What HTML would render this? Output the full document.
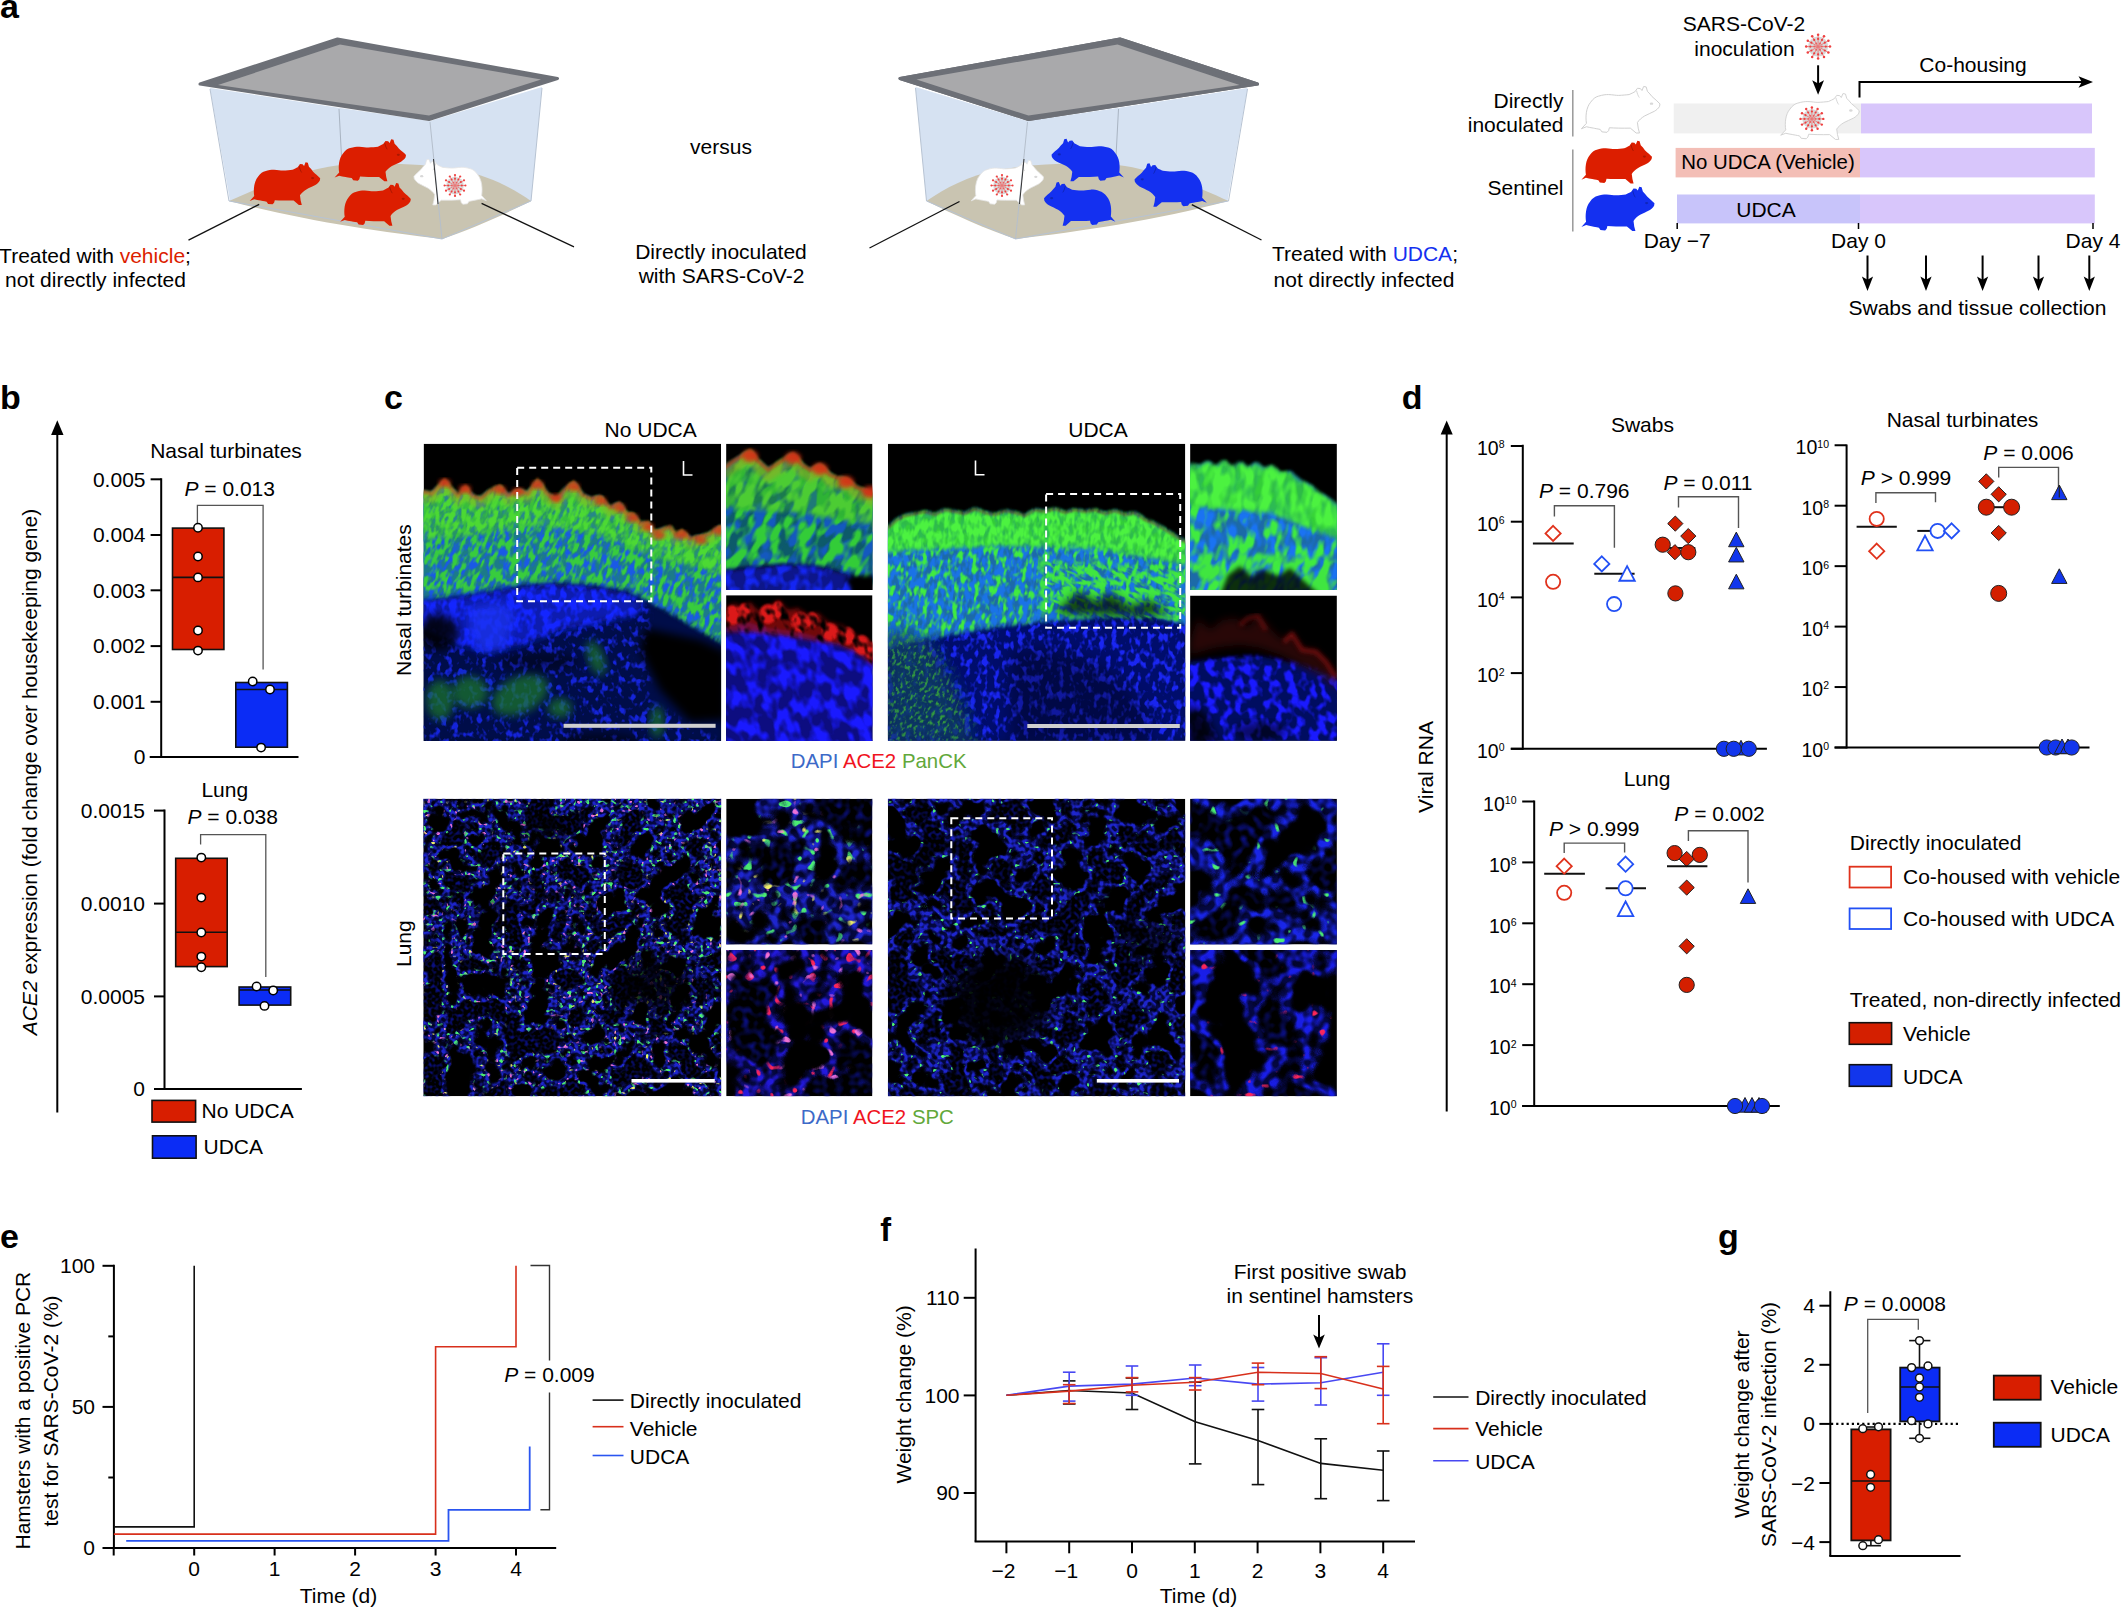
<!DOCTYPE html><html><head><meta charset='utf-8'><style>html,body{margin:0;padding:0;background:#fff;overflow:hidden}svg{display:block}</style></head><body><svg width='2122' height='1608' viewBox='0 0 2122 1608'><rect width='2122' height='1608' fill='#fff'/><defs><filter id='vblur' x='-20%' y='-20%' width='140%' height='140%'><feGaussianBlur stdDeviation='0.45'/></filter></defs><text x='0' y='17.8' font-family="'Liberation Sans', Arial, sans-serif" font-weight='bold' font-size='34'>a</text><g><polygon points='210,88 230,201 340,165 531,201 542,87 430,121 340,108' fill='#d6e2f2'/><path d='M229 201 C262 186 300 170 340 165 C380 162 420 163 460 170 C490 176 512 188 531 201 C505 214 470 230 442 239 C380 232 300 220 229 201 Z' fill='#c9c4b1'/><path d='M210 89 L229 201 L442 239 L531 201 L542 88' fill='none' stroke='#b7c3d3' stroke-width='1'/><line x1='339' y1='109' x2='342' y2='166' stroke='#a9b4c2' stroke-width='1'/><path transform='translate(334.6,139.0) scale(0.7160,0.6887)' d='M0 55.9 L6.4 48.8 C5 40 6 28 11.7 21.2 C15 16 19 13.8 21.7 13.2 C27 11.5 31 11 34.5 11.1 C40 11.3 44 12.3 47.2 12.2 C52 12 57 11.5 60.5 11.1 C63 10 66 8.5 67.9 7.4 L71.1 2.9 L74.8 3.2 L76.9 5.8 L79 0.5 L82.2 1.1 L83.8 6.9 C86 9 88 11.5 89.7 13.8 C93 17 97 20 99.7 23.3 L99.2 26.5 C97.5 29.5 95 31.5 92.8 32.9 C88 35.5 84 37 80.1 39.2 C76.5 41.5 73 44.5 71.1 47.7 L72.1 55.1 L73.7 61.5 L69.5 61.5 L62.1 55.1 C57 55.2 52 55.2 47.2 55.1 C43 55 39 54.8 35.5 54.6 L34.5 58.4 L32.4 60.6 L26 60 L23.9 56.8 C20 56 17 55.5 15.4 55.1 C12 54.5 9 54 6.4 53.3 Z' fill='#dc1e00'/><g transform='translate(334.6,139.0) scale(0.7160,0.6887)' fill='none' stroke='rgba(0,0,0,0.22)' stroke-width='1' vector-effect='non-scaling-stroke'><path d='M70 6 C71 10 72 13 73.5 15' vector-effect='non-scaling-stroke'/><ellipse cx='89' cy='23' rx='2.2' ry='1.6' fill='rgba(0,0,0,0.22)' stroke='none'/></g><path transform='translate(249.7,162.0) scale(0.7070,0.6984)' d='M0 55.9 L6.4 48.8 C5 40 6 28 11.7 21.2 C15 16 19 13.8 21.7 13.2 C27 11.5 31 11 34.5 11.1 C40 11.3 44 12.3 47.2 12.2 C52 12 57 11.5 60.5 11.1 C63 10 66 8.5 67.9 7.4 L71.1 2.9 L74.8 3.2 L76.9 5.8 L79 0.5 L82.2 1.1 L83.8 6.9 C86 9 88 11.5 89.7 13.8 C93 17 97 20 99.7 23.3 L99.2 26.5 C97.5 29.5 95 31.5 92.8 32.9 C88 35.5 84 37 80.1 39.2 C76.5 41.5 73 44.5 71.1 47.7 L72.1 55.1 L73.7 61.5 L69.5 61.5 L62.1 55.1 C57 55.2 52 55.2 47.2 55.1 C43 55 39 54.8 35.5 54.6 L34.5 58.4 L32.4 60.6 L26 60 L23.9 56.8 C20 56 17 55.5 15.4 55.1 C12 54.5 9 54 6.4 53.3 Z' fill='#dc1e00'/><g transform='translate(249.7,162.0) scale(0.7070,0.6984)' fill='none' stroke='rgba(0,0,0,0.22)' stroke-width='1' vector-effect='non-scaling-stroke'><path d='M70 6 C71 10 72 13 73.5 15' vector-effect='non-scaling-stroke'/><ellipse cx='89' cy='23' rx='2.2' ry='1.6' fill='rgba(0,0,0,0.22)' stroke='none'/></g><path transform='translate(340.2,182.7) scale(0.7080,0.6984)' d='M0 55.9 L6.4 48.8 C5 40 6 28 11.7 21.2 C15 16 19 13.8 21.7 13.2 C27 11.5 31 11 34.5 11.1 C40 11.3 44 12.3 47.2 12.2 C52 12 57 11.5 60.5 11.1 C63 10 66 8.5 67.9 7.4 L71.1 2.9 L74.8 3.2 L76.9 5.8 L79 0.5 L82.2 1.1 L83.8 6.9 C86 9 88 11.5 89.7 13.8 C93 17 97 20 99.7 23.3 L99.2 26.5 C97.5 29.5 95 31.5 92.8 32.9 C88 35.5 84 37 80.1 39.2 C76.5 41.5 73 44.5 71.1 47.7 L72.1 55.1 L73.7 61.5 L69.5 61.5 L62.1 55.1 C57 55.2 52 55.2 47.2 55.1 C43 55 39 54.8 35.5 54.6 L34.5 58.4 L32.4 60.6 L26 60 L23.9 56.8 C20 56 17 55.5 15.4 55.1 C12 54.5 9 54 6.4 53.3 Z' fill='#dc1e00'/><g transform='translate(340.2,182.7) scale(0.7080,0.6984)' fill='none' stroke='rgba(0,0,0,0.22)' stroke-width='1' vector-effect='non-scaling-stroke'><path d='M70 6 C71 10 72 13 73.5 15' vector-effect='non-scaling-stroke'/><ellipse cx='89' cy='23' rx='2.2' ry='1.6' fill='rgba(0,0,0,0.22)' stroke='none'/></g><path transform='translate(486.3,159.0) scale(-0.7260,0.7468)' d='M0 55.9 L6.4 48.8 C5 40 6 28 11.7 21.2 C15 16 19 13.8 21.7 13.2 C27 11.5 31 11 34.5 11.1 C40 11.3 44 12.3 47.2 12.2 C52 12 57 11.5 60.5 11.1 C63 10 66 8.5 67.9 7.4 L71.1 2.9 L74.8 3.2 L76.9 5.8 L79 0.5 L82.2 1.1 L83.8 6.9 C86 9 88 11.5 89.7 13.8 C93 17 97 20 99.7 23.3 L99.2 26.5 C97.5 29.5 95 31.5 92.8 32.9 C88 35.5 84 37 80.1 39.2 C76.5 41.5 73 44.5 71.1 47.7 L72.1 55.1 L73.7 61.5 L69.5 61.5 L62.1 55.1 C57 55.2 52 55.2 47.2 55.1 C43 55 39 54.8 35.5 54.6 L34.5 58.4 L32.4 60.6 L26 60 L23.9 56.8 C20 56 17 55.5 15.4 55.1 C12 54.5 9 54 6.4 53.3 Z' fill='#ffffff' stroke='#e4e4e4' stroke-width='0.8' vector-effect='non-scaling-stroke'/><g transform='translate(486.3,159.0) scale(-0.7260,0.7468)' fill='none' stroke='#d8d8d8' stroke-width='1' vector-effect='non-scaling-stroke'><path d='M70 6 C71 10 72 13 73.5 15' vector-effect='non-scaling-stroke'/><ellipse cx='89' cy='23' rx='2.2' ry='1.6' fill='#d8d8d8' stroke='none'/></g><g filter='url(#vblur)'><circle cx='455.0' cy='185.5' r='8.80' fill='#d4d4d4' opacity='0.9'/><line x1='455.0' y1='185.5' x2='455.0' y2='195.9' stroke='#e87878' stroke-width='0.77'/><circle cx='455.0' cy='195.9' r='1.10' fill='#ee4040'/><circle cx='455.0' cy='192.3' r='0.99' fill='#ee4040'/><line x1='455.0' y1='185.5' x2='449.8' y2='194.5' stroke='#e87878' stroke-width='0.77'/><circle cx='449.8' cy='194.5' r='1.10' fill='#ee4040'/><circle cx='451.6' cy='191.4' r='0.99' fill='#ee4040'/><line x1='455.0' y1='185.5' x2='446.0' y2='190.7' stroke='#e87878' stroke-width='0.77'/><circle cx='446.0' cy='190.7' r='1.10' fill='#ee4040'/><circle cx='449.1' cy='188.9' r='0.99' fill='#ee4040'/><line x1='455.0' y1='185.5' x2='444.6' y2='185.5' stroke='#e87878' stroke-width='0.77'/><circle cx='444.6' cy='185.5' r='1.10' fill='#ee4040'/><circle cx='448.2' cy='185.5' r='0.99' fill='#ee4040'/><line x1='455.0' y1='185.5' x2='446.0' y2='180.3' stroke='#e87878' stroke-width='0.77'/><circle cx='446.0' cy='180.3' r='1.10' fill='#ee4040'/><circle cx='449.1' cy='182.1' r='0.99' fill='#ee4040'/><line x1='455.0' y1='185.5' x2='449.8' y2='176.5' stroke='#e87878' stroke-width='0.77'/><circle cx='449.8' cy='176.5' r='1.10' fill='#ee4040'/><circle cx='451.6' cy='179.6' r='0.99' fill='#ee4040'/><line x1='455.0' y1='185.5' x2='455.0' y2='175.1' stroke='#e87878' stroke-width='0.77'/><circle cx='455.0' cy='175.1' r='1.10' fill='#ee4040'/><circle cx='455.0' cy='178.7' r='0.99' fill='#ee4040'/><line x1='455.0' y1='185.5' x2='460.2' y2='176.5' stroke='#e87878' stroke-width='0.77'/><circle cx='460.2' cy='176.5' r='1.10' fill='#ee4040'/><circle cx='458.4' cy='179.6' r='0.99' fill='#ee4040'/><line x1='455.0' y1='185.5' x2='464.0' y2='180.3' stroke='#e87878' stroke-width='0.77'/><circle cx='464.0' cy='180.3' r='1.10' fill='#ee4040'/><circle cx='460.9' cy='182.1' r='0.99' fill='#ee4040'/><line x1='455.0' y1='185.5' x2='465.4' y2='185.5' stroke='#e87878' stroke-width='0.77'/><circle cx='465.4' cy='185.5' r='1.10' fill='#ee4040'/><circle cx='461.8' cy='185.5' r='0.99' fill='#ee4040'/><line x1='455.0' y1='185.5' x2='464.0' y2='190.7' stroke='#e87878' stroke-width='0.77'/><circle cx='464.0' cy='190.7' r='1.10' fill='#ee4040'/><circle cx='460.9' cy='188.9' r='0.99' fill='#ee4040'/><line x1='455.0' y1='185.5' x2='460.2' y2='194.5' stroke='#e87878' stroke-width='0.77'/><circle cx='460.2' cy='194.5' r='1.10' fill='#ee4040'/><circle cx='458.4' cy='191.4' r='0.99' fill='#ee4040'/><circle cx='458.3' cy='185.5' r='0.88' fill='#ee6060'/><circle cx='456.6' cy='188.4' r='0.88' fill='#ee6060'/><circle cx='453.4' cy='188.4' r='0.88' fill='#ee6060'/><circle cx='451.7' cy='185.5' r='0.88' fill='#ee6060'/><circle cx='453.4' cy='182.6' r='0.88' fill='#ee6060'/><circle cx='456.6' cy='182.6' r='0.88' fill='#ee6060'/></g><line x1='430' y1='122' x2='442' y2='239' stroke='#b5bfcc' stroke-width='1'/><line x1='433.5' y1='159' x2='438' y2='204' stroke='#333' stroke-width='1'/><polygon points='200,84 337.5,39 557.5,78.5 429,119.5' fill='#6d7077' stroke='#6d7077' stroke-width='3' stroke-linejoin='round'/><polygon points='218,85 340,44.5 541,79.5 429,115.5' fill='#a9a9ab'/></g><g transform='translate(1457.5,0) scale(-1,1)'><polygon points='210,88 230,201 340,165 531,201 542,87 430,121 340,108' fill='#d6e2f2'/><path d='M229 201 C262 186 300 170 340 165 C380 162 420 163 460 170 C490 176 512 188 531 201 C505 214 470 230 442 239 C380 232 300 220 229 201 Z' fill='#c9c4b1'/><path d='M210 89 L229 201 L442 239 L531 201 L542 88' fill='none' stroke='#b7c3d3' stroke-width='1'/><line x1='339' y1='109' x2='342' y2='166' stroke='#a9b4c2' stroke-width='1'/><polygon points='200,84 337.5,39 557.5,78.5 429,119.5' fill='#6d7077' stroke='#6d7077' stroke-width='3' stroke-linejoin='round'/><polygon points='218,85 340,44.5 541,79.5 429,115.5' fill='#a9a9ab'/></g><path transform='translate(1123.9,138.4) scale(-0.7260,0.6984)' d='M0 55.9 L6.4 48.8 C5 40 6 28 11.7 21.2 C15 16 19 13.8 21.7 13.2 C27 11.5 31 11 34.5 11.1 C40 11.3 44 12.3 47.2 12.2 C52 12 57 11.5 60.5 11.1 C63 10 66 8.5 67.9 7.4 L71.1 2.9 L74.8 3.2 L76.9 5.8 L79 0.5 L82.2 1.1 L83.8 6.9 C86 9 88 11.5 89.7 13.8 C93 17 97 20 99.7 23.3 L99.2 26.5 C97.5 29.5 95 31.5 92.8 32.9 C88 35.5 84 37 80.1 39.2 C76.5 41.5 73 44.5 71.1 47.7 L72.1 55.1 L73.7 61.5 L69.5 61.5 L62.1 55.1 C57 55.2 52 55.2 47.2 55.1 C43 55 39 54.8 35.5 54.6 L34.5 58.4 L32.4 60.6 L26 60 L23.9 56.8 C20 56 17 55.5 15.4 55.1 C12 54.5 9 54 6.4 53.3 Z' fill='#1430f0'/><g transform='translate(1123.9,138.4) scale(-0.7260,0.6984)' fill='none' stroke='rgba(0,0,0,0.22)' stroke-width='1' vector-effect='non-scaling-stroke'><path d='M70 6 C71 10 72 13 73.5 15' vector-effect='non-scaling-stroke'/><ellipse cx='89' cy='23' rx='2.2' ry='1.6' fill='rgba(0,0,0,0.22)' stroke='none'/></g><path transform='translate(1115.4,181.7) scale(-0.7160,0.7145)' d='M0 55.9 L6.4 48.8 C5 40 6 28 11.7 21.2 C15 16 19 13.8 21.7 13.2 C27 11.5 31 11 34.5 11.1 C40 11.3 44 12.3 47.2 12.2 C52 12 57 11.5 60.5 11.1 C63 10 66 8.5 67.9 7.4 L71.1 2.9 L74.8 3.2 L76.9 5.8 L79 0.5 L82.2 1.1 L83.8 6.9 C86 9 88 11.5 89.7 13.8 C93 17 97 20 99.7 23.3 L99.2 26.5 C97.5 29.5 95 31.5 92.8 32.9 C88 35.5 84 37 80.1 39.2 C76.5 41.5 73 44.5 71.1 47.7 L72.1 55.1 L73.7 61.5 L69.5 61.5 L62.1 55.1 C57 55.2 52 55.2 47.2 55.1 C43 55 39 54.8 35.5 54.6 L34.5 58.4 L32.4 60.6 L26 60 L23.9 56.8 C20 56 17 55.5 15.4 55.1 C12 54.5 9 54 6.4 53.3 Z' fill='#1430f0'/><g transform='translate(1115.4,181.7) scale(-0.7160,0.7145)' fill='none' stroke='rgba(0,0,0,0.22)' stroke-width='1' vector-effect='non-scaling-stroke'><path d='M70 6 C71 10 72 13 73.5 15' vector-effect='non-scaling-stroke'/><ellipse cx='89' cy='23' rx='2.2' ry='1.6' fill='rgba(0,0,0,0.22)' stroke='none'/></g><path transform='translate(1206.8,162.9) scale(-0.7250,0.7145)' d='M0 55.9 L6.4 48.8 C5 40 6 28 11.7 21.2 C15 16 19 13.8 21.7 13.2 C27 11.5 31 11 34.5 11.1 C40 11.3 44 12.3 47.2 12.2 C52 12 57 11.5 60.5 11.1 C63 10 66 8.5 67.9 7.4 L71.1 2.9 L74.8 3.2 L76.9 5.8 L79 0.5 L82.2 1.1 L83.8 6.9 C86 9 88 11.5 89.7 13.8 C93 17 97 20 99.7 23.3 L99.2 26.5 C97.5 29.5 95 31.5 92.8 32.9 C88 35.5 84 37 80.1 39.2 C76.5 41.5 73 44.5 71.1 47.7 L72.1 55.1 L73.7 61.5 L69.5 61.5 L62.1 55.1 C57 55.2 52 55.2 47.2 55.1 C43 55 39 54.8 35.5 54.6 L34.5 58.4 L32.4 60.6 L26 60 L23.9 56.8 C20 56 17 55.5 15.4 55.1 C12 54.5 9 54 6.4 53.3 Z' fill='#1430f0'/><g transform='translate(1206.8,162.9) scale(-0.7250,0.7145)' fill='none' stroke='rgba(0,0,0,0.22)' stroke-width='1' vector-effect='non-scaling-stroke'><path d='M70 6 C71 10 72 13 73.5 15' vector-effect='non-scaling-stroke'/><ellipse cx='89' cy='23' rx='2.2' ry='1.6' fill='rgba(0,0,0,0.22)' stroke='none'/></g><path transform='translate(971.2,160.0) scale(0.7260,0.7306)' d='M0 55.9 L6.4 48.8 C5 40 6 28 11.7 21.2 C15 16 19 13.8 21.7 13.2 C27 11.5 31 11 34.5 11.1 C40 11.3 44 12.3 47.2 12.2 C52 12 57 11.5 60.5 11.1 C63 10 66 8.5 67.9 7.4 L71.1 2.9 L74.8 3.2 L76.9 5.8 L79 0.5 L82.2 1.1 L83.8 6.9 C86 9 88 11.5 89.7 13.8 C93 17 97 20 99.7 23.3 L99.2 26.5 C97.5 29.5 95 31.5 92.8 32.9 C88 35.5 84 37 80.1 39.2 C76.5 41.5 73 44.5 71.1 47.7 L72.1 55.1 L73.7 61.5 L69.5 61.5 L62.1 55.1 C57 55.2 52 55.2 47.2 55.1 C43 55 39 54.8 35.5 54.6 L34.5 58.4 L32.4 60.6 L26 60 L23.9 56.8 C20 56 17 55.5 15.4 55.1 C12 54.5 9 54 6.4 53.3 Z' fill='#ffffff' stroke='#e4e4e4' stroke-width='0.8' vector-effect='non-scaling-stroke'/><g transform='translate(971.2,160.0) scale(0.7260,0.7306)' fill='none' stroke='#d8d8d8' stroke-width='1' vector-effect='non-scaling-stroke'><path d='M70 6 C71 10 72 13 73.5 15' vector-effect='non-scaling-stroke'/><ellipse cx='89' cy='23' rx='2.2' ry='1.6' fill='#d8d8d8' stroke='none'/></g><g filter='url(#vblur)'><circle cx='1002.0' cy='185.5' r='8.80' fill='#d4d4d4' opacity='0.9'/><line x1='1002.0' y1='185.5' x2='1002.0' y2='195.9' stroke='#e87878' stroke-width='0.77'/><circle cx='1002.0' cy='195.9' r='1.10' fill='#ee4040'/><circle cx='1002.0' cy='192.3' r='0.99' fill='#ee4040'/><line x1='1002.0' y1='185.5' x2='996.8' y2='194.5' stroke='#e87878' stroke-width='0.77'/><circle cx='996.8' cy='194.5' r='1.10' fill='#ee4040'/><circle cx='998.6' cy='191.4' r='0.99' fill='#ee4040'/><line x1='1002.0' y1='185.5' x2='993.0' y2='190.7' stroke='#e87878' stroke-width='0.77'/><circle cx='993.0' cy='190.7' r='1.10' fill='#ee4040'/><circle cx='996.1' cy='188.9' r='0.99' fill='#ee4040'/><line x1='1002.0' y1='185.5' x2='991.5' y2='185.5' stroke='#e87878' stroke-width='0.77'/><circle cx='991.5' cy='185.5' r='1.10' fill='#ee4040'/><circle cx='995.2' cy='185.5' r='0.99' fill='#ee4040'/><line x1='1002.0' y1='185.5' x2='993.0' y2='180.3' stroke='#e87878' stroke-width='0.77'/><circle cx='993.0' cy='180.3' r='1.10' fill='#ee4040'/><circle cx='996.1' cy='182.1' r='0.99' fill='#ee4040'/><line x1='1002.0' y1='185.5' x2='996.8' y2='176.5' stroke='#e87878' stroke-width='0.77'/><circle cx='996.8' cy='176.5' r='1.10' fill='#ee4040'/><circle cx='998.6' cy='179.6' r='0.99' fill='#ee4040'/><line x1='1002.0' y1='185.5' x2='1002.0' y2='175.1' stroke='#e87878' stroke-width='0.77'/><circle cx='1002.0' cy='175.1' r='1.10' fill='#ee4040'/><circle cx='1002.0' cy='178.7' r='0.99' fill='#ee4040'/><line x1='1002.0' y1='185.5' x2='1007.2' y2='176.5' stroke='#e87878' stroke-width='0.77'/><circle cx='1007.2' cy='176.5' r='1.10' fill='#ee4040'/><circle cx='1005.4' cy='179.6' r='0.99' fill='#ee4040'/><line x1='1002.0' y1='185.5' x2='1011.0' y2='180.3' stroke='#e87878' stroke-width='0.77'/><circle cx='1011.0' cy='180.3' r='1.10' fill='#ee4040'/><circle cx='1007.9' cy='182.1' r='0.99' fill='#ee4040'/><line x1='1002.0' y1='185.5' x2='1012.5' y2='185.5' stroke='#e87878' stroke-width='0.77'/><circle cx='1012.5' cy='185.5' r='1.10' fill='#ee4040'/><circle cx='1008.8' cy='185.5' r='0.99' fill='#ee4040'/><line x1='1002.0' y1='185.5' x2='1011.0' y2='190.7' stroke='#e87878' stroke-width='0.77'/><circle cx='1011.0' cy='190.7' r='1.10' fill='#ee4040'/><circle cx='1007.9' cy='188.9' r='0.99' fill='#ee4040'/><line x1='1002.0' y1='185.5' x2='1007.2' y2='194.5' stroke='#e87878' stroke-width='0.77'/><circle cx='1007.2' cy='194.5' r='1.10' fill='#ee4040'/><circle cx='1005.4' cy='191.4' r='0.99' fill='#ee4040'/><circle cx='1005.3' cy='185.5' r='0.88' fill='#ee6060'/><circle cx='1003.6' cy='188.4' r='0.88' fill='#ee6060'/><circle cx='1000.4' cy='188.4' r='0.88' fill='#ee6060'/><circle cx='998.7' cy='185.5' r='0.88' fill='#ee6060'/><circle cx='1000.4' cy='182.6' r='0.88' fill='#ee6060'/><circle cx='1003.6' cy='182.6' r='0.88' fill='#ee6060'/></g><line x1='1027.5' y1='122' x2='1015.5' y2='239' stroke='#b5bfcc' stroke-width='1'/><line x1='1024' y1='159' x2='1019.5' y2='204' stroke='#333' stroke-width='1'/><g transform='translate(1457.5,0) scale(-1,1)'><polygon points='200,84 337.5,39 557.5,78.5 429,119.5' fill='#6d7077' stroke='#6d7077' stroke-width='3' stroke-linejoin='round'/><polygon points='218,85 340,44.5 541,79.5 429,115.5' fill='#a9a9ab'/></g><g stroke='#111' stroke-width='1.3'><line x1='259.2' y1='204.4' x2='188.5' y2='240.2'/><line x1='481.6' y1='203.4' x2='574' y2='246.8'/><line x1='959.5' y1='201.5' x2='869.5' y2='248'/><line x1='1191.8' y1='204.6' x2='1261.5' y2='240'/></g><text font-family="'Liberation Sans', Arial, sans-serif" font-size='21' x='95' y='262.7' text-anchor='middle'>Treated with <tspan fill='#dc1e00'>vehicle</tspan>;</text><text font-family="'Liberation Sans', Arial, sans-serif" font-size='21' x='95.5' y='287.3' text-anchor='middle'>not directly infected</text><text font-family="'Liberation Sans', Arial, sans-serif" font-size='21' x='721' y='154' text-anchor='middle'>versus</text><text font-family="'Liberation Sans', Arial, sans-serif" font-size='21' x='721' y='258.6' text-anchor='middle'>Directly inoculated</text><text font-family="'Liberation Sans', Arial, sans-serif" font-size='21' x='721.5' y='283' text-anchor='middle'>with SARS-CoV-2</text><text font-family="'Liberation Sans', Arial, sans-serif" font-size='21' x='1365' y='261.4' text-anchor='middle'>Treated with <tspan fill='#1430f0'>UDCA</tspan>;</text><text font-family="'Liberation Sans', Arial, sans-serif" font-size='21' x='1364' y='287' text-anchor='middle'>not directly infected</text><text font-family="'Liberation Sans', Arial, sans-serif" font-size='21' x='1744' y='30.5' text-anchor='middle'>SARS-CoV-2</text><text font-family="'Liberation Sans', Arial, sans-serif" font-size='21' x='1744.5' y='55.6' text-anchor='middle'>inoculation</text><g filter='url(#vblur)'><circle cx='1818.1' cy='46.6' r='10.00' fill='#d4d4d4' opacity='0.9'/><line x1='1818.1' y1='46.6' x2='1818.1' y2='58.5' stroke='#e87878' stroke-width='0.88'/><circle cx='1818.1' cy='58.5' r='1.25' fill='#ee4040'/><circle cx='1818.1' cy='54.4' r='1.12' fill='#ee4040'/><line x1='1818.1' y1='46.6' x2='1812.2' y2='56.9' stroke='#e87878' stroke-width='0.88'/><circle cx='1812.2' cy='56.9' r='1.25' fill='#ee4040'/><circle cx='1814.2' cy='53.3' r='1.12' fill='#ee4040'/><line x1='1818.1' y1='46.6' x2='1807.8' y2='52.5' stroke='#e87878' stroke-width='0.88'/><circle cx='1807.8' cy='52.5' r='1.25' fill='#ee4040'/><circle cx='1811.4' cy='50.5' r='1.12' fill='#ee4040'/><line x1='1818.1' y1='46.6' x2='1806.2' y2='46.6' stroke='#e87878' stroke-width='0.88'/><circle cx='1806.2' cy='46.6' r='1.25' fill='#ee4040'/><circle cx='1810.3' cy='46.6' r='1.12' fill='#ee4040'/><line x1='1818.1' y1='46.6' x2='1807.8' y2='40.7' stroke='#e87878' stroke-width='0.88'/><circle cx='1807.8' cy='40.7' r='1.25' fill='#ee4040'/><circle cx='1811.4' cy='42.7' r='1.12' fill='#ee4040'/><line x1='1818.1' y1='46.6' x2='1812.2' y2='36.3' stroke='#e87878' stroke-width='0.88'/><circle cx='1812.2' cy='36.3' r='1.25' fill='#ee4040'/><circle cx='1814.2' cy='39.9' r='1.12' fill='#ee4040'/><line x1='1818.1' y1='46.6' x2='1818.1' y2='34.7' stroke='#e87878' stroke-width='0.88'/><circle cx='1818.1' cy='34.7' r='1.25' fill='#ee4040'/><circle cx='1818.1' cy='38.9' r='1.12' fill='#ee4040'/><line x1='1818.1' y1='46.6' x2='1824.0' y2='36.3' stroke='#e87878' stroke-width='0.88'/><circle cx='1824.0' cy='36.3' r='1.25' fill='#ee4040'/><circle cx='1822.0' cy='39.9' r='1.12' fill='#ee4040'/><line x1='1818.1' y1='46.6' x2='1828.4' y2='40.7' stroke='#e87878' stroke-width='0.88'/><circle cx='1828.4' cy='40.7' r='1.25' fill='#ee4040'/><circle cx='1824.8' cy='42.7' r='1.12' fill='#ee4040'/><line x1='1818.1' y1='46.6' x2='1830.0' y2='46.6' stroke='#e87878' stroke-width='0.88'/><circle cx='1830.0' cy='46.6' r='1.25' fill='#ee4040'/><circle cx='1825.8' cy='46.6' r='1.12' fill='#ee4040'/><line x1='1818.1' y1='46.6' x2='1828.4' y2='52.5' stroke='#e87878' stroke-width='0.88'/><circle cx='1828.4' cy='52.5' r='1.25' fill='#ee4040'/><circle cx='1824.8' cy='50.5' r='1.12' fill='#ee4040'/><line x1='1818.1' y1='46.6' x2='1824.0' y2='56.9' stroke='#e87878' stroke-width='0.88'/><circle cx='1824.0' cy='56.9' r='1.25' fill='#ee4040'/><circle cx='1822.0' cy='53.3' r='1.12' fill='#ee4040'/><circle cx='1821.8' cy='46.6' r='1.00' fill='#ee6060'/><circle cx='1820.0' cy='49.8' r='1.00' fill='#ee6060'/><circle cx='1816.2' cy='49.8' r='1.00' fill='#ee6060'/><circle cx='1814.3' cy='46.6' r='1.00' fill='#ee6060'/><circle cx='1816.2' cy='43.4' r='1.00' fill='#ee6060'/><circle cx='1820.0' cy='43.4' r='1.00' fill='#ee6060'/></g><line x1='1818.1' y1='65.3' x2='1818.1' y2='86' stroke='#000' stroke-width='2'/><polygon points='1812.2,80.2 1818.1,83.5 1824,80.2 1818.1,94.8' fill='#000'/><text font-family="'Liberation Sans', Arial, sans-serif" font-size='21' x='1973' y='72.3' text-anchor='middle'>Co-housing</text><polyline points='1859.5,97.5 1859.5,82 2084,82' fill='none' stroke='#000' stroke-width='2'/><polygon points='2078.5,76.2 2081.8,82 2078.5,87.8 2093,82' fill='#000'/><rect x='1673.7' y='103.5' width='187.3' height='29.9' fill='#f0f0f0'/><rect x='1861' y='103.5' width='231' height='29.9' fill='#d8c6fb'/><rect x='1675.6' y='147.9' width='184.4' height='29.5' fill='#f3beb6'/><rect x='1860' y='147.9' width='234.8' height='29.5' fill='#d8c6fb'/><rect x='1677' y='194.5' width='183' height='28.9' fill='#c8c4fa'/><rect x='1860' y='194.5' width='234.8' height='28.9' fill='#d8c6fb'/><text font-family="'Liberation Sans', Arial, sans-serif" font-size='20.4' x='1768' y='169.4' text-anchor='middle'>No UDCA (Vehicle)</text><text font-family="'Liberation Sans', Arial, sans-serif" font-size='21' x='1766' y='217' text-anchor='middle'>UDCA</text><text font-family="'Liberation Sans', Arial, sans-serif" font-size='21' x='1563.5' y='107.7' text-anchor='end'>Directly</text><text font-family="'Liberation Sans', Arial, sans-serif" font-size='21' x='1563.5' y='131.8' text-anchor='end'>inoculated</text><text font-family="'Liberation Sans', Arial, sans-serif" font-size='21' x='1563.5' y='194.5' text-anchor='end'>Sentinel</text><line x1='1572.8' y1='90' x2='1572.8' y2='136.6' stroke='#999' stroke-width='1.5'/><line x1='1572.8' y1='149.5' x2='1572.8' y2='231.4' stroke='#999' stroke-width='1.5'/><path transform='translate(1581.4,86.1) scale(0.7880,0.7629)' d='M0 55.9 L6.4 48.8 C5 40 6 28 11.7 21.2 C15 16 19 13.8 21.7 13.2 C27 11.5 31 11 34.5 11.1 C40 11.3 44 12.3 47.2 12.2 C52 12 57 11.5 60.5 11.1 C63 10 66 8.5 67.9 7.4 L71.1 2.9 L74.8 3.2 L76.9 5.8 L79 0.5 L82.2 1.1 L83.8 6.9 C86 9 88 11.5 89.7 13.8 C93 17 97 20 99.7 23.3 L99.2 26.5 C97.5 29.5 95 31.5 92.8 32.9 C88 35.5 84 37 80.1 39.2 C76.5 41.5 73 44.5 71.1 47.7 L72.1 55.1 L73.7 61.5 L69.5 61.5 L62.1 55.1 C57 55.2 52 55.2 47.2 55.1 C43 55 39 54.8 35.5 54.6 L34.5 58.4 L32.4 60.6 L26 60 L23.9 56.8 C20 56 17 55.5 15.4 55.1 C12 54.5 9 54 6.4 53.3 Z' fill='#ffffff' stroke='#d0d0d0' stroke-width='1' vector-effect='non-scaling-stroke'/><g transform='translate(1581.4,86.1) scale(0.7880,0.7629)' fill='none' stroke='#d8d8d8' stroke-width='1' vector-effect='non-scaling-stroke'><path d='M70 6 C71 10 72 13 73.5 15' vector-effect='non-scaling-stroke'/><ellipse cx='89' cy='23' rx='2.2' ry='1.6' fill='#d8d8d8' stroke='none'/></g><path transform='translate(1581.4,140.5) scale(0.7080,0.7000)' d='M0 55.9 L6.4 48.8 C5 40 6 28 11.7 21.2 C15 16 19 13.8 21.7 13.2 C27 11.5 31 11 34.5 11.1 C40 11.3 44 12.3 47.2 12.2 C52 12 57 11.5 60.5 11.1 C63 10 66 8.5 67.9 7.4 L71.1 2.9 L74.8 3.2 L76.9 5.8 L79 0.5 L82.2 1.1 L83.8 6.9 C86 9 88 11.5 89.7 13.8 C93 17 97 20 99.7 23.3 L99.2 26.5 C97.5 29.5 95 31.5 92.8 32.9 C88 35.5 84 37 80.1 39.2 C76.5 41.5 73 44.5 71.1 47.7 L72.1 55.1 L73.7 61.5 L69.5 61.5 L62.1 55.1 C57 55.2 52 55.2 47.2 55.1 C43 55 39 54.8 35.5 54.6 L34.5 58.4 L32.4 60.6 L26 60 L23.9 56.8 C20 56 17 55.5 15.4 55.1 C12 54.5 9 54 6.4 53.3 Z' fill='#dc1e00'/><g transform='translate(1581.4,140.5) scale(0.7080,0.7000)' fill='none' stroke='rgba(0,0,0,0.22)' stroke-width='1' vector-effect='non-scaling-stroke'><path d='M70 6 C71 10 72 13 73.5 15' vector-effect='non-scaling-stroke'/><ellipse cx='89' cy='23' rx='2.2' ry='1.6' fill='rgba(0,0,0,0.22)' stroke='none'/></g><path transform='translate(1581.4,186.4) scale(0.7330,0.7258)' d='M0 55.9 L6.4 48.8 C5 40 6 28 11.7 21.2 C15 16 19 13.8 21.7 13.2 C27 11.5 31 11 34.5 11.1 C40 11.3 44 12.3 47.2 12.2 C52 12 57 11.5 60.5 11.1 C63 10 66 8.5 67.9 7.4 L71.1 2.9 L74.8 3.2 L76.9 5.8 L79 0.5 L82.2 1.1 L83.8 6.9 C86 9 88 11.5 89.7 13.8 C93 17 97 20 99.7 23.3 L99.2 26.5 C97.5 29.5 95 31.5 92.8 32.9 C88 35.5 84 37 80.1 39.2 C76.5 41.5 73 44.5 71.1 47.7 L72.1 55.1 L73.7 61.5 L69.5 61.5 L62.1 55.1 C57 55.2 52 55.2 47.2 55.1 C43 55 39 54.8 35.5 54.6 L34.5 58.4 L32.4 60.6 L26 60 L23.9 56.8 C20 56 17 55.5 15.4 55.1 C12 54.5 9 54 6.4 53.3 Z' fill='#1430f0'/><g transform='translate(1581.4,186.4) scale(0.7330,0.7258)' fill='none' stroke='rgba(0,0,0,0.22)' stroke-width='1' vector-effect='non-scaling-stroke'><path d='M70 6 C71 10 72 13 73.5 15' vector-effect='non-scaling-stroke'/><ellipse cx='89' cy='23' rx='2.2' ry='1.6' fill='rgba(0,0,0,0.22)' stroke='none'/></g><path transform='translate(1780.7,93.2) scale(0.7880,0.7516)' d='M0 55.9 L6.4 48.8 C5 40 6 28 11.7 21.2 C15 16 19 13.8 21.7 13.2 C27 11.5 31 11 34.5 11.1 C40 11.3 44 12.3 47.2 12.2 C52 12 57 11.5 60.5 11.1 C63 10 66 8.5 67.9 7.4 L71.1 2.9 L74.8 3.2 L76.9 5.8 L79 0.5 L82.2 1.1 L83.8 6.9 C86 9 88 11.5 89.7 13.8 C93 17 97 20 99.7 23.3 L99.2 26.5 C97.5 29.5 95 31.5 92.8 32.9 C88 35.5 84 37 80.1 39.2 C76.5 41.5 73 44.5 71.1 47.7 L72.1 55.1 L73.7 61.5 L69.5 61.5 L62.1 55.1 C57 55.2 52 55.2 47.2 55.1 C43 55 39 54.8 35.5 54.6 L34.5 58.4 L32.4 60.6 L26 60 L23.9 56.8 C20 56 17 55.5 15.4 55.1 C12 54.5 9 54 6.4 53.3 Z' fill='#ffffff' stroke='#d4d4d4' stroke-width='1' vector-effect='non-scaling-stroke'/><g transform='translate(1780.7,93.2) scale(0.7880,0.7516)' fill='none' stroke='#d8d8d8' stroke-width='1' vector-effect='non-scaling-stroke'><path d='M70 6 C71 10 72 13 73.5 15' vector-effect='non-scaling-stroke'/><ellipse cx='89' cy='23' rx='2.2' ry='1.6' fill='#d8d8d8' stroke='none'/></g><g filter='url(#vblur)'><circle cx='1811.9' cy='118.9' r='9.60' fill='#d4d4d4' opacity='0.9'/><line x1='1811.9' y1='118.9' x2='1811.9' y2='130.3' stroke='#e87878' stroke-width='0.84'/><circle cx='1811.9' cy='130.3' r='1.20' fill='#ee4040'/><circle cx='1811.9' cy='126.3' r='1.08' fill='#ee4040'/><line x1='1811.9' y1='118.9' x2='1806.2' y2='128.8' stroke='#e87878' stroke-width='0.84'/><circle cx='1806.2' cy='128.8' r='1.20' fill='#ee4040'/><circle cx='1808.2' cy='125.3' r='1.08' fill='#ee4040'/><line x1='1811.9' y1='118.9' x2='1802.0' y2='124.6' stroke='#e87878' stroke-width='0.84'/><circle cx='1802.0' cy='124.6' r='1.20' fill='#ee4040'/><circle cx='1805.5' cy='122.6' r='1.08' fill='#ee4040'/><line x1='1811.9' y1='118.9' x2='1800.5' y2='118.9' stroke='#e87878' stroke-width='0.84'/><circle cx='1800.5' cy='118.9' r='1.20' fill='#ee4040'/><circle cx='1804.5' cy='118.9' r='1.08' fill='#ee4040'/><line x1='1811.9' y1='118.9' x2='1802.0' y2='113.2' stroke='#e87878' stroke-width='0.84'/><circle cx='1802.0' cy='113.2' r='1.20' fill='#ee4040'/><circle cx='1805.5' cy='115.2' r='1.08' fill='#ee4040'/><line x1='1811.9' y1='118.9' x2='1806.2' y2='109.0' stroke='#e87878' stroke-width='0.84'/><circle cx='1806.2' cy='109.0' r='1.20' fill='#ee4040'/><circle cx='1808.2' cy='112.5' r='1.08' fill='#ee4040'/><line x1='1811.9' y1='118.9' x2='1811.9' y2='107.5' stroke='#e87878' stroke-width='0.84'/><circle cx='1811.9' cy='107.5' r='1.20' fill='#ee4040'/><circle cx='1811.9' cy='111.5' r='1.08' fill='#ee4040'/><line x1='1811.9' y1='118.9' x2='1817.6' y2='109.0' stroke='#e87878' stroke-width='0.84'/><circle cx='1817.6' cy='109.0' r='1.20' fill='#ee4040'/><circle cx='1815.6' cy='112.5' r='1.08' fill='#ee4040'/><line x1='1811.9' y1='118.9' x2='1821.8' y2='113.2' stroke='#e87878' stroke-width='0.84'/><circle cx='1821.8' cy='113.2' r='1.20' fill='#ee4040'/><circle cx='1818.3' cy='115.2' r='1.08' fill='#ee4040'/><line x1='1811.9' y1='118.9' x2='1823.3' y2='118.9' stroke='#e87878' stroke-width='0.84'/><circle cx='1823.3' cy='118.9' r='1.20' fill='#ee4040'/><circle cx='1819.3' cy='118.9' r='1.08' fill='#ee4040'/><line x1='1811.9' y1='118.9' x2='1821.8' y2='124.6' stroke='#e87878' stroke-width='0.84'/><circle cx='1821.8' cy='124.6' r='1.20' fill='#ee4040'/><circle cx='1818.3' cy='122.6' r='1.08' fill='#ee4040'/><line x1='1811.9' y1='118.9' x2='1817.6' y2='128.8' stroke='#e87878' stroke-width='0.84'/><circle cx='1817.6' cy='128.8' r='1.20' fill='#ee4040'/><circle cx='1815.6' cy='125.3' r='1.08' fill='#ee4040'/><circle cx='1815.5' cy='118.9' r='0.96' fill='#ee6060'/><circle cx='1813.7' cy='122.0' r='0.96' fill='#ee6060'/><circle cx='1810.1' cy='122.0' r='0.96' fill='#ee6060'/><circle cx='1808.3' cy='118.9' r='0.96' fill='#ee6060'/><circle cx='1810.1' cy='115.8' r='0.96' fill='#ee6060'/><circle cx='1813.7' cy='115.8' r='0.96' fill='#ee6060'/></g><g stroke='#000' stroke-width='1.5'><line x1='1677.2' y1='223' x2='1677.2' y2='229'/><line x1='1858.5' y1='223' x2='1858.5' y2='229'/><line x1='2093' y1='223' x2='2093' y2='229'/></g><text font-family="'Liberation Sans', Arial, sans-serif" font-size='21' x='1677.2' y='247.5' text-anchor='middle'>Day −7</text><text font-family="'Liberation Sans', Arial, sans-serif" font-size='21' x='1858.5' y='247.5' text-anchor='middle'>Day 0</text><text font-family="'Liberation Sans', Arial, sans-serif" font-size='21' x='2093' y='247.5' text-anchor='middle'>Day 4</text><line x1='1867.5' y1='255.5' x2='1867.5' y2='283' stroke='#000' stroke-width='2'/><polygon points='1861.9,276.5 1867.5,279.8 1873.1,276.5 1867.5,291' fill='#000'/><line x1='1926' y1='255.5' x2='1926' y2='283' stroke='#000' stroke-width='2'/><polygon points='1920.4,276.5 1926,279.8 1931.6,276.5 1926,291' fill='#000'/><line x1='1982.6' y1='255.5' x2='1982.6' y2='283' stroke='#000' stroke-width='2'/><polygon points='1977.0,276.5 1982.6,279.8 1988.1999999999998,276.5 1982.6,291' fill='#000'/><line x1='2038.5' y1='255.5' x2='2038.5' y2='283' stroke='#000' stroke-width='2'/><polygon points='2032.9,276.5 2038.5,279.8 2044.1,276.5 2038.5,291' fill='#000'/><line x1='2089.3' y1='255.5' x2='2089.3' y2='283' stroke='#000' stroke-width='2'/><polygon points='2083.7000000000003,276.5 2089.3,279.8 2094.9,276.5 2089.3,291' fill='#000'/><text font-family="'Liberation Sans', Arial, sans-serif" font-size='21' x='1977.5' y='315' text-anchor='middle'>Swabs and tissue collection</text><text x='0' y='408.6' font-family="'Liberation Sans', Arial, sans-serif" font-weight='bold' font-size='34'>b</text><line x1='57.3' y1='432' x2='57.3' y2='1112.6' stroke='#000' stroke-width='2'/><polygon points='51.1,435 63.5,435 57.3,420.3' fill='#000'/><text font-family="'Liberation Sans', Arial, sans-serif" font-size='21' transform='translate(36.5,1035.3) rotate(-90)'><tspan font-style='italic'>ACE2</tspan> expression (fold change over housekeeping gene)</text><text font-family="'Liberation Sans', Arial, sans-serif" font-size='21' x='226' y='457.7' text-anchor='middle'>Nasal turbinates</text><g stroke='#000' stroke-width='2' fill='none'><line x1='161.2' y1='478.3' x2='161.2' y2='757.9'/><line x1='149.7' y1='756.9' x2='298.5' y2='756.9'/><line x1='150.6' y1='479.3' x2='161.2' y2='479.3'/><line x1='150.6' y1='535' x2='161.2' y2='535'/><line x1='150.6' y1='590.3' x2='161.2' y2='590.3'/><line x1='150.6' y1='646.1' x2='161.2' y2='646.1'/><line x1='150.6' y1='701.8' x2='161.2' y2='701.8'/></g><text font-family="'Liberation Sans', Arial, sans-serif" font-size='21' x='145.5' y='486.5' text-anchor='end'>0.005</text><text font-family="'Liberation Sans', Arial, sans-serif" font-size='21' x='145.5' y='542.2' text-anchor='end'>0.004</text><text font-family="'Liberation Sans', Arial, sans-serif" font-size='21' x='145.5' y='597.5' text-anchor='end'>0.003</text><text font-family="'Liberation Sans', Arial, sans-serif" font-size='21' x='145.5' y='653.3000000000001' text-anchor='end'>0.002</text><text font-family="'Liberation Sans', Arial, sans-serif" font-size='21' x='145.5' y='709.0' text-anchor='end'>0.001</text><text font-family="'Liberation Sans', Arial, sans-serif" font-size='21' x='145.5' y='764.1' text-anchor='end'>0</text><rect x='172.5' y='528.1' width='51.4' height='121.4' fill='#d81e00' stroke='#111' stroke-width='1.6'/><line x1='172.5' y1='577.4' x2='223.9' y2='577.4' stroke='#111' stroke-width='1.6'/><rect x='235.8' y='682.5' width='51.6' height='64.7' fill='#0b2cf5' stroke='#111' stroke-width='1.6'/><line x1='235.8' y1='689.5' x2='287.4' y2='689.5' stroke='#111' stroke-width='1.6'/><polyline points='197.4,527 197.4,505.4 263.1,505.4 263.1,669.6' fill='none' stroke='#555' stroke-width='1.3'/><circle cx='198' cy='527.7' r='4.2' fill='#fff' stroke='#000' stroke-width='1.5'/><circle cx='198' cy='556.5' r='4.2' fill='#fff' stroke='#000' stroke-width='1.5'/><circle cx='198' cy='577.4' r='4.2' fill='#fff' stroke='#000' stroke-width='1.5'/><circle cx='198' cy='630.5' r='4.2' fill='#fff' stroke='#000' stroke-width='1.5'/><circle cx='198' cy='650.6' r='4.2' fill='#fff' stroke='#000' stroke-width='1.5'/><circle cx='252.7' cy='681.5' r='4.2' fill='#fff' stroke='#000' stroke-width='1.5'/><circle cx='270' cy='689.5' r='4.2' fill='#fff' stroke='#000' stroke-width='1.5'/><circle cx='261.1' cy='747.6' r='4.2' fill='#fff' stroke='#000' stroke-width='1.5'/><text font-family="'Liberation Sans', Arial, sans-serif" font-size='21' x='229.7' y='495.8' text-anchor='middle'><tspan font-style='italic'>P</tspan> = 0.013</text><text font-family="'Liberation Sans', Arial, sans-serif" font-size='21' x='224.8' y='796.9' text-anchor='middle'>Lung</text><g stroke='#000' stroke-width='2' fill='none'><line x1='164.5' y1='809.6' x2='164.5' y2='1090'/><line x1='154' y1='1089' x2='301.9' y2='1089'/><line x1='154' y1='810.6' x2='164.5' y2='810.6'/><line x1='154' y1='903.6' x2='164.5' y2='903.6'/><line x1='154' y1='996.4' x2='164.5' y2='996.4'/></g><text font-family="'Liberation Sans', Arial, sans-serif" font-size='21' x='145' y='817.8000000000001' text-anchor='end'>0.0015</text><text font-family="'Liberation Sans', Arial, sans-serif" font-size='21' x='145' y='910.8000000000001' text-anchor='end'>0.0010</text><text font-family="'Liberation Sans', Arial, sans-serif" font-size='21' x='145' y='1003.6' text-anchor='end'>0.0005</text><text font-family="'Liberation Sans', Arial, sans-serif" font-size='21' x='145' y='1096.2' text-anchor='end'>0</text><rect x='175.7' y='858.3' width='51.5' height='108.3' fill='#d81e00' stroke='#111' stroke-width='1.6'/><line x1='175.7' y1='932.2' x2='227.2' y2='932.2' stroke='#111' stroke-width='1.6'/><rect x='239.1' y='987' width='51.6' height='18.1' fill='#0b2cf5' stroke='#111' stroke-width='1.6'/><line x1='239.1' y1='990' x2='290.7' y2='990' stroke='#111' stroke-width='1.6'/><polyline points='200.6,844.6 200.6,834.7 265.8,834.7 265.8,977' fill='none' stroke='#555' stroke-width='1.3'/><circle cx='201.3' cy='857.6' r='4.2' fill='#fff' stroke='#000' stroke-width='1.5'/><circle cx='201.3' cy='897.6' r='4.2' fill='#fff' stroke='#000' stroke-width='1.5'/><circle cx='201.3' cy='932.5' r='4.2' fill='#fff' stroke='#000' stroke-width='1.5'/><circle cx='201.3' cy='956.6' r='4.2' fill='#fff' stroke='#000' stroke-width='1.5'/><circle cx='201.3' cy='967.3' r='4.2' fill='#fff' stroke='#000' stroke-width='1.5'/><circle cx='256.6' cy='986.5' r='4.2' fill='#fff' stroke='#000' stroke-width='1.5'/><circle cx='273.2' cy='990.5' r='4.2' fill='#fff' stroke='#000' stroke-width='1.5'/><circle cx='264.5' cy='1005.9' r='4.2' fill='#fff' stroke='#000' stroke-width='1.5'/><text font-family="'Liberation Sans', Arial, sans-serif" font-size='21' x='232.7' y='824.2' text-anchor='middle'><tspan font-style='italic'>P</tspan> = 0.038</text><rect x='152' y='1100.4' width='43.6' height='21.7' fill='#d81e00' stroke='#111' stroke-width='1.6'/><rect x='152.5' y='1135.8' width='43.6' height='22.4' fill='#0b2cf5' stroke='#111' stroke-width='1.6'/><text font-family="'Liberation Sans', Arial, sans-serif" font-size='21' x='201.5' y='1118.3'>No UDCA</text><text font-family="'Liberation Sans', Arial, sans-serif" font-size='21' x='203.5' y='1154.4'>UDCA</text><defs><filter id='blur1' x='-20%' y='-20%' width='140%' height='140%'><feGaussianBlur stdDeviation='1.2'/></filter><filter id='blur2' x='-20%' y='-20%' width='140%' height='140%'><feGaussianBlur stdDeviation='2'/></filter><filter id='blur4' x='-20%' y='-20%' width='140%' height='140%'><feGaussianBlur stdDeviation='4'/></filter><filter id='blur8' x='-30%' y='-30%' width='160%' height='160%'><feGaussianBlur stdDeviation='8'/></filter><filter id='tf1' x='0' y='0' width='1' height='1' color-interpolation-filters='sRGB'><feTurbulence type='fractalNoise' baseFrequency='0.17 0.13' numOctaves='2' seed='15'/><feColorMatrix type='matrix' values='0 0 0 0 0.08  0 0 0 0 0.14  0 0 0 0 0.85  5 0 0 0 -2.55'/><feGaussianBlur stdDeviation='0.5'/></filter><filter id='tf3' x='0' y='0' width='1' height='1' color-interpolation-filters='sRGB'><feTurbulence type='fractalNoise' baseFrequency='0.18 0.09' numOctaves='2' seed='11'/><feColorMatrix type='matrix' values='0 0 0 0 0.1  0 0 0 0 0.35  0 0 0 0 0.9  5 0 0 0 -2.1'/><feGaussianBlur stdDeviation='0.5'/></filter><filter id='tf5' x='0' y='0' width='1' height='1' color-interpolation-filters='sRGB'><feTurbulence type='fractalNoise' baseFrequency='0.2 0.09' numOctaves='2' seed='12'/><feColorMatrix type='matrix' values='0 0 0 0 0.22  0 0 0 0 0.8  0 0 0 0 0.24  5.5 0 0 0 -2.45'/><feGaussianBlur stdDeviation='0.5'/></filter><filter id='tf7' x='0' y='0' width='1' height='1' color-interpolation-filters='sRGB'><feTurbulence type='fractalNoise' baseFrequency='0.2 0.1' numOctaves='2' seed='13'/><feColorMatrix type='matrix' values='0 0 0 0 0.3  0 0 0 0 0.85  0 0 0 0 0.2  5 0 0 0 -2.0'/><feGaussianBlur stdDeviation='0.5'/></filter><filter id='tf9' x='0' y='0' width='1' height='1' color-interpolation-filters='sRGB'><feTurbulence type='fractalNoise' baseFrequency='0.14 0.1' numOctaves='2' seed='14'/><feColorMatrix type='matrix' values='0 0 0 0 0.08  0 0 0 0 0.15  0 0 0 0 1.0  4.5 0 0 0 -1.8'/><feGaussianBlur stdDeviation='0.5'/></filter><filter id='tf12' x='0' y='0' width='1' height='1' color-interpolation-filters='sRGB'><feTurbulence type='fractalNoise' baseFrequency='0.1 0.05' numOctaves='2' seed='21'/><feColorMatrix type='matrix' values='0 0 0 0 0.08  0 0 0 0 0.35  0 0 0 0 0.75  5 0 0 0 -2.0'/><feGaussianBlur stdDeviation='0.5'/></filter><filter id='tf14' x='0' y='0' width='1' height='1' color-interpolation-filters='sRGB'><feTurbulence type='fractalNoise' baseFrequency='0.1 0.05' numOctaves='2' seed='22'/><feColorMatrix type='matrix' values='0 0 0 0 0.2  0 0 0 0 0.8  0 0 0 0 0.22  5.5 0 0 0 -2.4'/><feGaussianBlur stdDeviation='0.5'/></filter><filter id='tf16' x='0' y='0' width='1' height='1' color-interpolation-filters='sRGB'><feTurbulence type='fractalNoise' baseFrequency='0.1 0.05' numOctaves='2' seed='23'/><feColorMatrix type='matrix' values='0 0 0 0 0.3  0 0 0 0 0.8  0 0 0 0 0.2  5 0 0 0 -1.9'/><feGaussianBlur stdDeviation='0.5'/></filter><filter id='tf18' x='0' y='0' width='1' height='1' color-interpolation-filters='sRGB'><feTurbulence type='fractalNoise' baseFrequency='0.09 0.07' numOctaves='2' seed='24'/><feColorMatrix type='matrix' values='0 0 0 0 0.08  0 0 0 0 0.15  0 0 0 0 0.95  4.5 0 0 0 -1.9'/><feGaussianBlur stdDeviation='0.5'/></filter><filter id='tf21' x='0' y='0' width='1' height='1' color-interpolation-filters='sRGB'><feTurbulence type='fractalNoise' baseFrequency='0.09 0.06' numOctaves='2' seed='31'/><feColorMatrix type='matrix' values='0 0 0 0 0.1  0 0 0 0 0.1  0 0 0 0 1.0  5 0 0 0 -2.1'/><feGaussianBlur stdDeviation='0.5'/></filter><filter id='tf23' x='0' y='0' width='1' height='1' color-interpolation-filters='sRGB'><feTurbulence type='fractalNoise' baseFrequency='0.12 0.08' numOctaves='2' seed='32'/><feColorMatrix type='matrix' values='0 0 0 0 0  0 0 0 0 0  0 0 0 0 0  -4 0 0 0 2.1'/><feGaussianBlur stdDeviation='0.5'/></filter><filter id='tf26' x='0' y='0' width='1' height='1' color-interpolation-filters='sRGB'><feTurbulence type='fractalNoise' baseFrequency='0.17 0.12' numOctaves='2' seed='44'/><feColorMatrix type='matrix' values='0 0 0 0 0.1  0 0 0 0 0.15  0 0 0 0 0.95  5 0 0 0 -2.45'/><feGaussianBlur stdDeviation='0.5'/></filter><filter id='tf28' x='0' y='0' width='1' height='1' color-interpolation-filters='sRGB'><feTurbulence type='fractalNoise' baseFrequency='0.2 0.1' numOctaves='2' seed='41'/><feColorMatrix type='matrix' values='0 0 0 0 0.1  0 0 0 0 0.45  0 0 0 0 0.9  5 0 0 0 -1.9'/><feGaussianBlur stdDeviation='0.5'/></filter><filter id='tf30' x='0' y='0' width='1' height='1' color-interpolation-filters='sRGB'><feTurbulence type='fractalNoise' baseFrequency='0.2 0.1' numOctaves='2' seed='42'/><feColorMatrix type='matrix' values='0 0 0 0 0.25  0 0 0 0 0.92  0 0 0 0 0.25  5 0 0 0 -2.45'/><feGaussianBlur stdDeviation='0.5'/></filter><filter id='tf32' x='0' y='0' width='1' height='1' color-interpolation-filters='sRGB'><feTurbulence type='fractalNoise' baseFrequency='0.2 0.1' numOctaves='2' seed='43'/><feColorMatrix type='matrix' values='0 0 0 0 0.3  0 0 0 0 0.95  0 0 0 0 0.25  4 0 0 0 -1.4'/><feGaussianBlur stdDeviation='0.5'/></filter><filter id='tf34' x='0' y='0' width='1' height='1' color-interpolation-filters='sRGB'><feTurbulence type='fractalNoise' baseFrequency='0.2 0.08' numOctaves='2' seed='46'/><feColorMatrix type='matrix' values='0 0 0 0 0.25  0 0 0 0 0.9  0 0 0 0 0.25  5 0 0 0 -2.2'/><feGaussianBlur stdDeviation='0.5'/></filter><filter id='tf36' x='0' y='0' width='1' height='1' color-interpolation-filters='sRGB'><feTurbulence type='fractalNoise' baseFrequency='0.35 0.2' numOctaves='2' seed='45'/><feColorMatrix type='matrix' values='0 0 0 0 0.2  0 0 0 0 0.6  0 0 0 0 0.25  6 0 0 0 -3.2'/><feGaussianBlur stdDeviation='0.5'/></filter><filter id='tf39' x='0' y='0' width='1' height='1' color-interpolation-filters='sRGB'><feTurbulence type='fractalNoise' baseFrequency='0.1 0.05' numOctaves='2' seed='51'/><feColorMatrix type='matrix' values='0 0 0 0 0.1  0 0 0 0 0.45  0 0 0 0 0.95  5 0 0 0 -1.9'/><feGaussianBlur stdDeviation='0.5'/></filter><filter id='tf41' x='0' y='0' width='1' height='1' color-interpolation-filters='sRGB'><feTurbulence type='fractalNoise' baseFrequency='0.1 0.05' numOctaves='2' seed='52'/><feColorMatrix type='matrix' values='0 0 0 0 0.25  0 0 0 0 0.92  0 0 0 0 0.25  5 0 0 0 -2.4'/><feGaussianBlur stdDeviation='0.5'/></filter><filter id='tf43' x='0' y='0' width='1' height='1' color-interpolation-filters='sRGB'><feTurbulence type='fractalNoise' baseFrequency='0.1 0.05' numOctaves='2' seed='53'/><feColorMatrix type='matrix' values='0 0 0 0 0.3  0 0 0 0 0.95  0 0 0 0 0.25  4 0 0 0 -1.4'/><feGaussianBlur stdDeviation='0.5'/></filter><filter id='tf45' x='0' y='0' width='1' height='1' color-interpolation-filters='sRGB'><feTurbulence type='fractalNoise' baseFrequency='0.1 0.05' numOctaves='2' seed='54'/><feColorMatrix type='matrix' values='0 0 0 0 0.25  0 0 0 0 0.9  0 0 0 0 0.25  4.5 0 0 0 -1.8'/><feGaussianBlur stdDeviation='0.5'/></filter><filter id='tf48' x='0' y='0' width='1' height='1' color-interpolation-filters='sRGB'><feTurbulence type='fractalNoise' baseFrequency='0.11 0.085' numOctaves='2' seed='61'/><feColorMatrix type='matrix' values='0 0 0 0 0.1  0 0 0 0 0.1  0 0 0 0 1.0  5.5 0 0 0 -2.5'/><feGaussianBlur stdDeviation='0.5'/></filter><filter id='lungA' x='0' y='0' width='1' height='1' color-interpolation-filters='sRGB'><feTurbulence type='fractalNoise' baseFrequency='0.036' numOctaves='3' seed='4' result='n1'/><feColorMatrix in='n1' type='matrix' values='0 0 0 0 0  0 0 0 0 0  0 0 0 0 0  3.0 0 0 0 -1.0' result='a1'/><feComponentTransfer in='a1' result='ridge'><feFuncA type='table' tableValues='0 0 0.02 0.2 0.6 0.95 1 0.95 0.6 0.2 0.02 0 0'/></feComponentTransfer><feColorMatrix in='n1' type='matrix' values='0 0 0 0 0  0 0 0 0 0  0 0 0 0 0  5 0 0 0 -2.65' result='tis'/><feTurbulence type='fractalNoise' baseFrequency='0.28' numOctaves='1' seed='11' result='n2'/><feColorMatrix in='n2' type='matrix' values='0 0 0 0 0.12  0 0 0 0 0.15  0 0 0 0 0.82  4.5 0 0 0 -1.75' result='blob'/><feComposite in='blob' in2='ridge' operator='in' result='net'/><feColorMatrix in='n2' type='matrix' values='0 0 0 0 0.04  0 0 0 0 0.06  0 0 0 0 0.5  3.5 0 0 0 -1.55' result='blob2'/><feComposite in='blob2' in2='tis' operator='in' result='fog'/><feColorMatrix in='ridge' type='matrix' values='0 0 0 0 0.03  0 0 0 0 0.05  0 0 0 0 0.42  0 0 0 0.6 0' result='dim'/><feTurbulence type='fractalNoise' baseFrequency='0.22' numOctaves='1' seed='15' result='d0'/><feColorMatrix in='d0' type='matrix' values='0 0 0 0 0.3  0 0 0 0 0.95  0 0 0 0 0.45  14 0 0 0 -8.7' result='dc0'/><feComposite in='dc0' in2='ridge' operator='in' result='dd0'/><feTurbulence type='fractalNoise' baseFrequency='0.22' numOctaves='1' seed='45' result='d1'/><feColorMatrix in='d1' type='matrix' values='0 0 0 0 0.95  0 0 0 0 0.45  0 0 0 0 0.85  14 0 0 0 -9.2' result='dc1'/><feComposite in='dc1' in2='ridge' operator='in' result='dd1'/><feTurbulence type='fractalNoise' baseFrequency='0.22' numOctaves='1' seed='55' result='d2'/><feColorMatrix in='d2' type='matrix' values='0 0 0 0 0.95  0 0 0 0 0.95  0 0 0 0 0.4  14 0 0 0 -9.6' result='dc2'/><feComposite in='dc2' in2='ridge' operator='in' result='dd2'/><feMerge><feMergeNode in='fog'/><feMergeNode in='dim'/><feMergeNode in='net'/><feMergeNode in='dd0'/><feMergeNode in='dd1'/><feMergeNode in='dd2'/></feMerge><feGaussianBlur stdDeviation='0.45'/></filter><filter id='lungA1' x='0' y='0' width='1' height='1' color-interpolation-filters='sRGB'><feTurbulence type='fractalNoise' baseFrequency='0.018' numOctaves='3' seed='9' result='n1'/><feColorMatrix in='n1' type='matrix' values='0 0 0 0 0  0 0 0 0 0  0 0 0 0 0  3.0 0 0 0 -1.0' result='a1'/><feComponentTransfer in='a1' result='ridge'><feFuncA type='table' tableValues='0 0 0.02 0.2 0.6 0.95 1 0.95 0.6 0.2 0.02 0 0'/></feComponentTransfer><feColorMatrix in='n1' type='matrix' values='0 0 0 0 0  0 0 0 0 0  0 0 0 0 0  5 0 0 0 -2.65' result='tis'/><feTurbulence type='fractalNoise' baseFrequency='0.14' numOctaves='1' seed='16' result='n2'/><feColorMatrix in='n2' type='matrix' values='0 0 0 0 0.12  0 0 0 0 0.15  0 0 0 0 0.82  4.5 0 0 0 -1.75' result='blob'/><feComposite in='blob' in2='ridge' operator='in' result='net'/><feColorMatrix in='n2' type='matrix' values='0 0 0 0 0.04  0 0 0 0 0.06  0 0 0 0 0.5  3.5 0 0 0 -1.55' result='blob2'/><feComposite in='blob2' in2='tis' operator='in' result='fog'/><feColorMatrix in='ridge' type='matrix' values='0 0 0 0 0.03  0 0 0 0 0.05  0 0 0 0 0.42  0 0 0 0.6 0' result='dim'/><feTurbulence type='fractalNoise' baseFrequency='0.11' numOctaves='1' seed='16' result='d0'/><feColorMatrix in='d0' type='matrix' values='0 0 0 0 0.3  0 0 0 0 0.95  0 0 0 0 0.45  14 0 0 0 -8.8' result='dc0'/><feComposite in='dc0' in2='ridge' operator='in' result='dd0'/><feTurbulence type='fractalNoise' baseFrequency='0.11' numOctaves='1' seed='56' result='d1'/><feColorMatrix in='d1' type='matrix' values='0 0 0 0 0.95  0 0 0 0 0.95  0 0 0 0 0.4  14 0 0 0 -9.5' result='dc1'/><feComposite in='dc1' in2='ridge' operator='in' result='dd1'/><feTurbulence type='fractalNoise' baseFrequency='0.11' numOctaves='1' seed='46' result='d2'/><feColorMatrix in='d2' type='matrix' values='0 0 0 0 0.95  0 0 0 0 0.45  0 0 0 0 0.85  14 0 0 0 -9.4' result='dc2'/><feComposite in='dc2' in2='ridge' operator='in' result='dd2'/><feMerge><feMergeNode in='fog'/><feMergeNode in='dim'/><feMergeNode in='net'/><feMergeNode in='dd0'/><feMergeNode in='dd1'/><feMergeNode in='dd2'/></feMerge><feGaussianBlur stdDeviation='0.45'/></filter><filter id='lungA2' x='0' y='0' width='1' height='1' color-interpolation-filters='sRGB'><feTurbulence type='fractalNoise' baseFrequency='0.018' numOctaves='3' seed='12' result='n1'/><feColorMatrix in='n1' type='matrix' values='0 0 0 0 0  0 0 0 0 0  0 0 0 0 0  3.0 0 0 0 -1.0' result='a1'/><feComponentTransfer in='a1' result='ridge'><feFuncA type='table' tableValues='0 0 0.02 0.2 0.6 0.95 1 0.95 0.6 0.2 0.02 0 0'/></feComponentTransfer><feColorMatrix in='n1' type='matrix' values='0 0 0 0 0  0 0 0 0 0  0 0 0 0 0  5 0 0 0 -2.65' result='tis'/><feTurbulence type='fractalNoise' baseFrequency='0.14' numOctaves='1' seed='19' result='n2'/><feColorMatrix in='n2' type='matrix' values='0 0 0 0 0.14  0 0 0 0 0.1  0 0 0 0 0.88  4.5 0 0 0 -1.75' result='blob'/><feComposite in='blob' in2='ridge' operator='in' result='net'/><feColorMatrix in='n2' type='matrix' values='0 0 0 0 0.04  0 0 0 0 0.06  0 0 0 0 0.5  3.5 0 0 0 -1.55' result='blob2'/><feComposite in='blob2' in2='tis' operator='in' result='fog'/><feColorMatrix in='ridge' type='matrix' values='0 0 0 0 0.03  0 0 0 0 0.05  0 0 0 0 0.42  0 0 0 0.6 0' result='dim'/><feTurbulence type='fractalNoise' baseFrequency='0.11' numOctaves='1' seed='47' result='d0'/><feColorMatrix in='d0' type='matrix' values='0 0 0 0 1.0  0 0 0 0 0.15  0 0 0 0 0.35  14 0 0 0 -8.8' result='dc0'/><feComposite in='dc0' in2='ridge' operator='in' result='dd0'/><feTurbulence type='fractalNoise' baseFrequency='0.11' numOctaves='1' seed='48' result='d1'/><feColorMatrix in='d1' type='matrix' values='0 0 0 0 0.95  0 0 0 0 0.45  0 0 0 0 0.85  14 0 0 0 -9.0' result='dc1'/><feComposite in='dc1' in2='ridge' operator='in' result='dd1'/><feMerge><feMergeNode in='fog'/><feMergeNode in='dim'/><feMergeNode in='net'/><feMergeNode in='dd0'/><feMergeNode in='dd1'/></feMerge><feGaussianBlur stdDeviation='0.45'/></filter><filter id='lungB' x='0' y='0' width='1' height='1' color-interpolation-filters='sRGB'><feTurbulence type='fractalNoise' baseFrequency='0.035' numOctaves='3' seed='21' result='n1'/><feColorMatrix in='n1' type='matrix' values='0 0 0 0 0  0 0 0 0 0  0 0 0 0 0  3.0 0 0 0 -1.0' result='a1'/><feComponentTransfer in='a1' result='ridge'><feFuncA type='table' tableValues='0 0 0.02 0.2 0.6 0.95 1 0.95 0.6 0.2 0.02 0 0'/></feComponentTransfer><feColorMatrix in='n1' type='matrix' values='0 0 0 0 0  0 0 0 0 0  0 0 0 0 0  5 0 0 0 -2.65' result='tis'/><feTurbulence type='fractalNoise' baseFrequency='0.25' numOctaves='1' seed='28' result='n2'/><feColorMatrix in='n2' type='matrix' values='0 0 0 0 0.12  0 0 0 0 0.15  0 0 0 0 0.82  4.5 0 0 0 -1.75' result='blob'/><feComposite in='blob' in2='ridge' operator='in' result='net'/><feColorMatrix in='n2' type='matrix' values='0 0 0 0 0.04  0 0 0 0 0.06  0 0 0 0 0.5  3.5 0 0 0 -1.55' result='blob2'/><feComposite in='blob2' in2='tis' operator='in' result='fog'/><feColorMatrix in='ridge' type='matrix' values='0 0 0 0 0.03  0 0 0 0 0.05  0 0 0 0 0.42  0 0 0 0.6 0' result='dim'/><feTurbulence type='fractalNoise' baseFrequency='0.22' numOctaves='1' seed='25' result='d0'/><feColorMatrix in='d0' type='matrix' values='0 0 0 0 0.3  0 0 0 0 0.95  0 0 0 0 0.45  14 0 0 0 -9.3' result='dc0'/><feComposite in='dc0' in2='ridge' operator='in' result='dd0'/><feMerge><feMergeNode in='fog'/><feMergeNode in='dim'/><feMergeNode in='net'/><feMergeNode in='dd0'/></feMerge><feGaussianBlur stdDeviation='0.45'/></filter><filter id='lungB1' x='0' y='0' width='1' height='1' color-interpolation-filters='sRGB'><feTurbulence type='fractalNoise' baseFrequency='0.0175' numOctaves='3' seed='31' result='n1'/><feColorMatrix in='n1' type='matrix' values='0 0 0 0 0  0 0 0 0 0  0 0 0 0 0  3.0 0 0 0 -1.0' result='a1'/><feComponentTransfer in='a1' result='ridge'><feFuncA type='table' tableValues='0 0 0.02 0.2 0.6 0.95 1 0.95 0.6 0.2 0.02 0 0'/></feComponentTransfer><feColorMatrix in='n1' type='matrix' values='0 0 0 0 0  0 0 0 0 0  0 0 0 0 0  5 0 0 0 -2.65' result='tis'/><feTurbulence type='fractalNoise' baseFrequency='0.125' numOctaves='1' seed='38' result='n2'/><feColorMatrix in='n2' type='matrix' values='0 0 0 0 0.1  0 0 0 0 0.15  0 0 0 0 0.92  4.5 0 0 0 -1.75' result='blob'/><feComposite in='blob' in2='ridge' operator='in' result='net'/><feColorMatrix in='n2' type='matrix' values='0 0 0 0 0.04  0 0 0 0 0.06  0 0 0 0 0.5  3.5 0 0 0 -1.55' result='blob2'/><feComposite in='blob2' in2='tis' operator='in' result='fog'/><feColorMatrix in='ridge' type='matrix' values='0 0 0 0 0.03  0 0 0 0 0.05  0 0 0 0 0.42  0 0 0 0.6 0' result='dim'/><feTurbulence type='fractalNoise' baseFrequency='0.11' numOctaves='1' seed='26' result='d0'/><feColorMatrix in='d0' type='matrix' values='0 0 0 0 0.3  0 0 0 0 0.95  0 0 0 0 0.45  14 0 0 0 -9.2' result='dc0'/><feComposite in='dc0' in2='ridge' operator='in' result='dd0'/><feMerge><feMergeNode in='fog'/><feMergeNode in='dim'/><feMergeNode in='net'/><feMergeNode in='dd0'/></feMerge><feGaussianBlur stdDeviation='0.45'/></filter><filter id='lungB2' x='0' y='0' width='1' height='1' color-interpolation-filters='sRGB'><feTurbulence type='fractalNoise' baseFrequency='0.0175' numOctaves='3' seed='33' result='n1'/><feColorMatrix in='n1' type='matrix' values='0 0 0 0 0  0 0 0 0 0  0 0 0 0 0  3.0 0 0 0 -1.0' result='a1'/><feComponentTransfer in='a1' result='ridge'><feFuncA type='table' tableValues='0 0 0.02 0.2 0.6 0.95 1 0.95 0.6 0.2 0.02 0 0'/></feComponentTransfer><feColorMatrix in='n1' type='matrix' values='0 0 0 0 0  0 0 0 0 0  0 0 0 0 0  5 0 0 0 -2.65' result='tis'/><feTurbulence type='fractalNoise' baseFrequency='0.125' numOctaves='1' seed='40' result='n2'/><feColorMatrix in='n2' type='matrix' values='0 0 0 0 0.1  0 0 0 0 0.12  0 0 0 0 0.92  4.5 0 0 0 -1.75' result='blob'/><feComposite in='blob' in2='ridge' operator='in' result='net'/><feColorMatrix in='n2' type='matrix' values='0 0 0 0 0.04  0 0 0 0 0.06  0 0 0 0 0.5  3.5 0 0 0 -1.55' result='blob2'/><feComposite in='blob2' in2='tis' operator='in' result='fog'/><feColorMatrix in='ridge' type='matrix' values='0 0 0 0 0.03  0 0 0 0 0.05  0 0 0 0 0.42  0 0 0 0.6 0' result='dim'/><feTurbulence type='fractalNoise' baseFrequency='0.11' numOctaves='1' seed='27' result='d0'/><feColorMatrix in='d0' type='matrix' values='0 0 0 0 1.0  0 0 0 0 0.15  0 0 0 0 0.35  14 0 0 0 -9.6' result='dc0'/><feComposite in='dc0' in2='ridge' operator='in' result='dd0'/><feMerge><feMergeNode in='fog'/><feMergeNode in='dim'/><feMergeNode in='net'/><feMergeNode in='dd0'/></feMerge><feGaussianBlur stdDeviation='0.45'/></filter></defs><text x='384' y='409.4' font-family="'Liberation Sans', Arial, sans-serif" font-weight='bold' font-size='34'>c</text><text font-family="'Liberation Sans', Arial, sans-serif" font-size='21' x='650.7' y='437.1' text-anchor='middle'>No UDCA</text><text font-family="'Liberation Sans', Arial, sans-serif" font-size='21' x='1098' y='437.1' text-anchor='middle'>UDCA</text><text font-family="'Liberation Sans', Arial, sans-serif" font-size='21' transform='translate(410.5,676) rotate(-90)'>Nasal turbinates</text><text font-family="'Liberation Sans', Arial, sans-serif" font-size='21' transform='translate(410.5,967) rotate(-90)'>Lung</text><clipPath id='ic11'><rect x='423.6' y='443.7' width='297.5' height='297.4'/></clipPath><g clip-path='url(#ic11)'><rect x='423.6' y='443.7' width='297.5' height='297.4' fill='#000'/><path d='M418 580 L726 600 L726 745 L418 745 Z' fill='#050a4a' filter='url(#blur4)' opacity='1'/><mask id='tm2' maskUnits='userSpaceOnUse' x='418.6' y='438.7' width='307.5' height='307.4'><path d='M418 600 L650 600 L650 700 L726 745 L418 745 Z' fill='#fff' filter='url(#blur2)'/></mask><g mask='url(#tm2)' opacity='1'><g transform='rotate(0 572.4 592.4)'><rect x='334.4' y='354.5' width='476.0' height='475.8' fill='#000' filter='url(#tf1)'/></g></g><path d='M418 498 L424 492 L432 494 L444.7 480.8 L452 490 L458 496 L465.5 487.4 L472 496 L480.7 499 L490 491 L499.7 486.4 L508 496 L518.6 490.3 L528 494 L537.6 480.7 L547 494 L556.6 499.9 L565 490 L573.6 482.6 L582 495 L590.7 498.9 L600.2 496.8 L610 508 L619.2 503.4 L626 514 L632.4 513.9 L640 524 L647.6 522.4 L653 532 L659 531 L670 527 L676 536 L681.8 531 L690 539 L700.7 536.6 L710 534 L719.7 527.1 L726 527 L726 645 L700 630 L670 612 L647.6 600 L628.6 591 L600.2 586 L552.8 582 L514.8 586 L470 594 L423.8 600 L418 600 Z' fill='#1a7a8a' filter='url(#blur2)' opacity='1'/><mask id='tm4' maskUnits='userSpaceOnUse' x='418.6' y='438.7' width='307.5' height='307.4'><path d='M418 498 L424 492 L432 494 L444.7 480.8 L452 490 L458 496 L465.5 487.4 L472 496 L480.7 499 L490 491 L499.7 486.4 L508 496 L518.6 490.3 L528 494 L537.6 480.7 L547 494 L556.6 499.9 L565 490 L573.6 482.6 L582 495 L590.7 498.9 L600.2 496.8 L610 508 L619.2 503.4 L626 514 L632.4 513.9 L640 524 L647.6 522.4 L653 532 L659 531 L670 527 L676 536 L681.8 531 L690 539 L700.7 536.6 L710 534 L719.7 527.1 L726 527 L726 645 L700 630 L670 612 L647.6 600 L628.6 591 L600.2 586 L552.8 582 L514.8 586 L470 594 L423.8 600 L418 600 Z' fill='#fff' filter='url(#blur2)'/></mask><g mask='url(#tm4)' opacity='1'><g transform='rotate(22 572.4 592.4)'><rect x='334.4' y='354.5' width='476.0' height='475.8' fill='#000' filter='url(#tf3)'/></g></g><mask id='tm6' maskUnits='userSpaceOnUse' x='418.6' y='438.7' width='307.5' height='307.4'><path d='M418 498 L424 492 L432 494 L444.7 480.8 L452 490 L458 496 L465.5 487.4 L472 496 L480.7 499 L490 491 L499.7 486.4 L508 496 L518.6 490.3 L528 494 L537.6 480.7 L547 494 L556.6 499.9 L565 490 L573.6 482.6 L582 495 L590.7 498.9 L600.2 496.8 L610 508 L619.2 503.4 L626 514 L632.4 513.9 L640 524 L647.6 522.4 L653 532 L659 531 L670 527 L676 536 L681.8 531 L690 539 L700.7 536.6 L710 534 L719.7 527.1 L726 527 L726 645 L700 630 L670 612 L647.6 600 L628.6 591 L600.2 586 L552.8 582 L514.8 586 L470 594 L423.8 600 L418 600 Z' fill='#fff' filter='url(#blur2)'/></mask><g mask='url(#tm6)' opacity='1'><g transform='rotate(22 572.4 592.4)'><rect x='334.4' y='354.5' width='476.0' height='475.8' fill='#000' filter='url(#tf5)'/></g></g><path d='M418 498 L424 492 L432 494 L444.7 480.8 L452 490 L458 496 L465.5 487.4 L472 496 L480.7 499 L490 491 L499.7 486.4 L508 496 L518.6 490.3 L528 494 L537.6 480.7 L547 494 L556.6 499.9 L565 490 L573.6 482.6 L582 495 L590.7 498.9 L600.2 496.8 L610 508 L619.2 503.4 L626 514 L632.4 513.9 L640 524 L647.6 522.4 L653 532 L659 531 L670 527 L676 536 L681.8 531 L690 539 L700.7 536.6 L710 534 L719.7 527.1 L726 527 L726 575 L650 555 L600 535 L540 525 L470 535 L418 540 Z' fill='#35b040' filter='url(#blur2)' opacity='0.5'/><mask id='tm8' maskUnits='userSpaceOnUse' x='418.6' y='438.7' width='307.5' height='307.4'><path d='M418 498 L424 492 L432 494 L444.7 480.8 L452 490 L458 496 L465.5 487.4 L472 496 L480.7 499 L490 491 L499.7 486.4 L508 496 L518.6 490.3 L528 494 L537.6 480.7 L547 494 L556.6 499.9 L565 490 L573.6 482.6 L582 495 L590.7 498.9 L600.2 496.8 L610 508 L619.2 503.4 L626 514 L632.4 513.9 L640 524 L647.6 522.4 L653 532 L659 531 L670 527 L676 536 L681.8 531 L690 539 L700.7 536.6 L710 534 L719.7 527.1 L726 527 L726 575 L650 555 L600 535 L540 525 L470 535 L418 540 Z' fill='#fff' filter='url(#blur2)'/></mask><g mask='url(#tm8)' opacity='1'><g transform='rotate(22 572.4 592.4)'><rect x='334.4' y='354.5' width='476.0' height='475.8' fill='#000' filter='url(#tf7)'/></g></g><path d='M418 602 L470 596 L514.8 588 L552.8 584 L600.2 588 L628.6 594 L645 604 L635 615 L600 622 L560 630 L520 645 L490 652 L460 645 L435 632 L418 625 Z' fill='#0c1cb0' filter='url(#blur4)' opacity='1'/><mask id='tm10' maskUnits='userSpaceOnUse' x='418.6' y='438.7' width='307.5' height='307.4'><path d='M418 602 L470 596 L514.8 588 L552.8 584 L600.2 588 L628.6 594 L645 604 L635 615 L600 622 L560 630 L520 645 L490 652 L460 645 L435 632 L418 625 Z' fill='#fff' filter='url(#blur2)'/></mask><g mask='url(#tm10)' opacity='1'><g transform='rotate(0 572.4 592.4)'><rect x='334.4' y='354.5' width='476.0' height='475.8' fill='#000' filter='url(#tf9)'/></g></g><path d='M470 608 L500 602 L515 615 L505 648 L480 652 L470 630 Z' fill='#1a36f0' filter='url(#blur4)' opacity='0.7'/><ellipse cx='596' cy='658' rx='8' ry='18' transform='rotate(-20 596 658)' fill='#1a7a2a' filter='url(#blur4)' opacity='0.7'/><ellipse cx='520' cy='695' rx='30' ry='18' transform='rotate(-25 520 695)' fill='#1a7a2a' filter='url(#blur4)' opacity='0.7'/><ellipse cx='470' cy='692' rx='18' ry='16' transform='rotate(0 470 692)' fill='#1a7a2a' filter='url(#blur4)' opacity='0.7'/><ellipse cx='657' cy='722' rx='7' ry='16' transform='rotate(0 657 722)' fill='#1a7a2a' filter='url(#blur4)' opacity='0.7'/><ellipse cx='560' cy='708' rx='12' ry='10' transform='rotate(0 560 708)' fill='#1a7a2a' filter='url(#blur4)' opacity='0.7'/><ellipse cx='440' cy='700' rx='14' ry='20' transform='rotate(0 440 700)' fill='#1a7a2a' filter='url(#blur4)' opacity='0.7'/><path d='M645 628 L700 640 L726 652 L726 720 L690 722 L660 690 L640 650 Z' fill='#000' filter='url(#blur4)' opacity='1'/><ellipse cx='438' cy='632' rx='20' ry='18' fill='#000' filter='url(#blur4)' opacity='0.85'/><ellipse cx='540' cy='662' rx='40' ry='10' fill='#000' filter='url(#blur4)' opacity='0.4'/><ellipse cx='600' cy='740' rx='40' ry='8' fill='#000' filter='url(#blur4)' opacity='0.5'/><path d='M418 498 L424 492 L432 494 L444.7 480.8 L452 490 L458 496 L465.5 487.4 L472 496 L480.7 499 L490 491 L499.7 486.4 L508 496 L518.6 490.3 L528 494 L537.6 480.7 L547 494 L556.6 499.9 L565 490 L573.6 482.6 L582 495 L590.7 498.9 L600.2 496.8 L610 508 L619.2 503.4 L626 514 L632.4 513.9 L640 524 L647.6 522.4 L653 532 L659 531 L670 527 L676 536 L681.8 531 L690 539 L700.7 536.6 L710 534 L719.7 527.1 L726 527' fill='none' stroke='#d84a1a' stroke-width='4' filter='url(#blur1)' opacity='0.6'/><path d='M418 498 L424 492 L432 494 L444.7 480.8 L452 490 L458 496 L465.5 487.4 L472 496 L480.7 499 L490 491 L499.7 486.4 L508 496 L518.6 490.3 L528 494 L537.6 480.7 L547 494 L556.6 499.9 L565 490 L573.6 482.6 L582 495 L590.7 498.9 L600.2 496.8 L610 508 L619.2 503.4 L626 514 L632.4 513.9 L640 524 L647.6 522.4 L653 532 L659 531 L670 527 L676 536 L681.8 531 L690 539 L700.7 536.6 L710 534 L719.7 527.1 L726 527' fill='none' stroke='#a8a020' stroke-width='8' filter='url(#blur2)' opacity='0.4' transform='translate(0,5)'/><ellipse cx='444.7' cy='483' rx='6' ry='4' fill='#d83018' filter='url(#blur2)' opacity='0.85'/><ellipse cx='465' cy='489' rx='6' ry='4' fill='#d83018' filter='url(#blur2)' opacity='0.85'/><ellipse cx='499.7' cy='490' rx='6' ry='4' fill='#d83018' filter='url(#blur2)' opacity='0.85'/><ellipse cx='518' cy='492' rx='6' ry='4' fill='#d83018' filter='url(#blur2)' opacity='0.85'/><ellipse cx='537.6' cy='485' rx='6' ry='4' fill='#d83018' filter='url(#blur2)' opacity='0.85'/><ellipse cx='556' cy='498' rx='6' ry='4' fill='#d83018' filter='url(#blur2)' opacity='0.85'/><ellipse cx='573.6' cy='487' rx='6' ry='4' fill='#d83018' filter='url(#blur2)' opacity='0.85'/><ellipse cx='600.2' cy='501' rx='6' ry='4' fill='#d83018' filter='url(#blur2)' opacity='0.85'/><ellipse cx='619.2' cy='508' rx='6' ry='4' fill='#d83018' filter='url(#blur2)' opacity='0.85'/><ellipse cx='632.4' cy='518' rx='6' ry='4' fill='#d83018' filter='url(#blur2)' opacity='0.85'/><ellipse cx='647.6' cy='527' rx='6' ry='4' fill='#d83018' filter='url(#blur2)' opacity='0.85'/><ellipse cx='659' cy='535' rx='6' ry='4' fill='#d83018' filter='url(#blur2)' opacity='0.85'/><ellipse cx='681.8' cy='535' rx='6' ry='4' fill='#d83018' filter='url(#blur2)' opacity='0.85'/><ellipse cx='700.7' cy='540' rx='6' ry='4' fill='#d83018' filter='url(#blur2)' opacity='0.85'/><ellipse cx='719.7' cy='531' rx='6' ry='4' fill='#d83018' filter='url(#blur2)' opacity='0.85'/></g><clipPath id='ic20'><rect x='726.1' y='443.7' width='146.4' height='146.3'/></clipPath><g clip-path='url(#ic20)'><rect x='726.1' y='443.7' width='146.4' height='146.3' fill='#000'/><path d='M722 470 L732 462 L742 456 L750 451 L758 461 L768 470 L780 462 L793 454 L802 465 L810 470 L820 465 L830 475 L838 478 L846 479 L856 487 L866 491 L876 496 L876 585 L860 578 L820 566 L780 563 L740 568 L722 570 Z' fill='#0e5a6a' filter='url(#blur2)' opacity='1'/><mask id='tm13' maskUnits='userSpaceOnUse' x='721.1' y='438.7' width='156.4' height='156.3'><path d='M722 470 L732 462 L742 456 L750 451 L758 461 L768 470 L780 462 L793 454 L802 465 L810 470 L820 465 L830 475 L838 478 L846 479 L856 487 L866 491 L876 496 L876 585 L860 578 L820 566 L780 563 L740 568 L722 570 Z' fill='#fff' filter='url(#blur2)'/></mask><g mask='url(#tm13)' opacity='1'><g transform='rotate(28 799.3 516.9)'><rect x='682.2' y='399.8' width='234.2' height='234.1' fill='#000' filter='url(#tf12)'/></g></g><mask id='tm15' maskUnits='userSpaceOnUse' x='721.1' y='438.7' width='156.4' height='156.3'><path d='M722 470 L732 462 L742 456 L750 451 L758 461 L768 470 L780 462 L793 454 L802 465 L810 470 L820 465 L830 475 L838 478 L846 479 L856 487 L866 491 L876 496 L876 585 L860 578 L820 566 L780 563 L740 568 L722 570 Z' fill='#fff' filter='url(#blur2)'/></mask><g mask='url(#tm15)' opacity='1'><g transform='rotate(28 799.3 516.9)'><rect x='682.2' y='399.8' width='234.2' height='234.1' fill='#000' filter='url(#tf14)'/></g></g><path d='M722 470 L732 462 L742 456 L750 451 L758 461 L768 470 L780 462 L793 454 L802 465 L810 470 L820 465 L830 475 L838 478 L846 479 L856 487 L866 491 L876 496 L876 525 L800 512 L722 508 Z' fill='#2a9a30' filter='url(#blur2)' opacity='0.5'/><mask id='tm17' maskUnits='userSpaceOnUse' x='721.1' y='438.7' width='156.4' height='156.3'><path d='M722 470 L732 462 L742 456 L750 451 L758 461 L768 470 L780 462 L793 454 L802 465 L810 470 L820 465 L830 475 L838 478 L846 479 L856 487 L866 491 L876 496 L876 525 L800 512 L722 508 Z' fill='#fff' filter='url(#blur2)'/></mask><g mask='url(#tm17)' opacity='1'><g transform='rotate(28 799.3 516.9)'><rect x='682.2' y='399.8' width='234.2' height='234.1' fill='#000' filter='url(#tf16)'/></g></g><path d='M722 572 L740 569 L780 565 L820 567 L850 575 L856 595 L722 595 Z' fill='#08148a' filter='url(#blur2)' opacity='1'/><mask id='tm19' maskUnits='userSpaceOnUse' x='721.1' y='438.7' width='156.4' height='156.3'><path d='M722 572 L740 569 L780 565 L820 567 L850 575 L856 595 L722 595 Z' fill='#fff' filter='url(#blur2)'/></mask><g mask='url(#tm19)' opacity='1'><g transform='rotate(0 799.3 516.9)'><rect x='682.2' y='399.8' width='234.2' height='234.1' fill='#000' filter='url(#tf18)'/></g></g><path d='M845 578 L876 575 L876 595 L855 595 Z' fill='#000' filter='url(#blur2)' opacity='1'/><path d='M722 470 L732 462 L742 456 L750 451 L758 461 L768 470 L780 462 L793 454 L802 465 L810 470 L820 465 L830 475 L838 478 L846 479 L856 487 L866 491 L876 496' fill='none' stroke='#a8a020' stroke-width='10' filter='url(#blur2)' opacity='0.45' transform='translate(0,6)'/><path d='M722 470 L732 462 L742 456 L750 451 L758 461 L768 470 L780 462 L793 454 L802 465 L810 470 L820 465 L830 475 L838 478 L846 479 L856 487 L866 491 L876 496' fill='none' stroke='#c84018' stroke-width='4' filter='url(#blur1)' opacity='0.6'/><ellipse cx='750' cy='456' rx='8' ry='6' fill='#d83018' filter='url(#blur2)' opacity='0.9'/><ellipse cx='793' cy='458' rx='8' ry='6' fill='#d83018' filter='url(#blur2)' opacity='0.9'/><ellipse cx='820' cy='469' rx='8' ry='6' fill='#d83018' filter='url(#blur2)' opacity='0.9'/><ellipse cx='846' cy='482' rx='8' ry='6' fill='#d83018' filter='url(#blur2)' opacity='0.9'/><ellipse cx='870' cy='492' rx='8' ry='6' fill='#d83018' filter='url(#blur2)' opacity='0.9'/></g><clipPath id='ic25'><rect x='726.1' y='595.2' width='146.4' height='145.9'/></clipPath><g clip-path='url(#ic25)'><rect x='726.1' y='595.2' width='146.4' height='145.9' fill='#000'/><path d='M722 628 L745 622 L770 628 L800 632 L830 640 L860 652 L876 660 L876 745 L722 745 Z' fill='#070d80' filter='url(#blur1)' opacity='1'/><mask id='tm22' maskUnits='userSpaceOnUse' x='721.1' y='590.2' width='156.4' height='155.9'><path d='M722 628 L745 622 L770 628 L800 632 L830 640 L860 652 L876 660 L876 745 L722 745 Z' fill='#fff' filter='url(#blur2)'/></mask><g mask='url(#tm22)' opacity='1'><g transform='rotate(-20 799.3 668.2)'><rect x='682.2' y='551.4' width='234.2' height='233.4' fill='#000' filter='url(#tf21)'/></g></g><path d='M726 608 L734 603 L742 607 L750 602 L760 612 L770 606 L779 600 L788 610 L798 608 L808 615 L818 613 L828 622 L842 625 L855 635 L868 640 L876 650 L876 668 L860 655 L840 645 L810 640 L780 635 L750 632 L726 632 Z' fill='#a01010' filter='url(#blur2)' opacity='0.7'/><ellipse cx='733' cy='615' rx='8' ry='10' fill='#e81c1c' filter='url(#blur1)' opacity='0.9'/><ellipse cx='744' cy='612' rx='6' ry='9' fill='#e81c1c' filter='url(#blur1)' opacity='0.9'/><ellipse cx='768' cy='614' rx='9' ry='10' fill='#e81c1c' filter='url(#blur1)' opacity='0.9'/><ellipse cx='778' cy='610' rx='6' ry='9' fill='#e81c1c' filter='url(#blur1)' opacity='0.9'/><ellipse cx='800' cy='622' rx='9' ry='10' fill='#e81c1c' filter='url(#blur1)' opacity='0.9'/><ellipse cx='812' cy='620' rx='6' ry='8' fill='#e81c1c' filter='url(#blur1)' opacity='0.9'/><ellipse cx='830' cy='632' rx='8' ry='9' fill='#e81c1c' filter='url(#blur1)' opacity='0.9'/><ellipse cx='848' cy='636' rx='7' ry='9' fill='#e81c1c' filter='url(#blur1)' opacity='0.9'/><ellipse cx='862' cy='645' rx='8' ry='10' fill='#e81c1c' filter='url(#blur1)' opacity='0.9'/><ellipse cx='872' cy='652' rx='6' ry='10' fill='#e81c1c' filter='url(#blur1)' opacity='0.9'/><mask id='tm24' maskUnits='userSpaceOnUse' x='721.1' y='590.2' width='156.4' height='155.9'><path d='M726 608 L734 603 L742 607 L750 602 L760 612 L770 606 L779 600 L788 610 L798 608 L808 615 L818 613 L828 622 L842 625 L855 635 L868 640 L876 650 L876 668 L860 655 L840 645 L810 640 L780 635 L750 632 L726 632 Z' fill='#fff' filter='url(#blur2)'/></mask><g mask='url(#tm24)' opacity='1'><g transform='rotate(-20 799.3 668.2)'><rect x='682.2' y='551.4' width='234.2' height='233.4' fill='#000' filter='url(#tf23)'/></g></g></g><clipPath id='ic38'><rect x='887.9' y='443.7' width='297.4' height='297.1'/></clipPath><g clip-path='url(#ic38)'><rect x='887.9' y='443.7' width='297.4' height='297.1' fill='#000'/><path d='M884 640 L900 635 L950 626 L1000 620 L1050 616 L1100 614 L1150 612 L1190 618 L1190 745 L884 745 Z' fill='#060c6c' filter='url(#blur4)' opacity='1'/><mask id='tm27' maskUnits='userSpaceOnUse' x='882.9' y='438.7' width='307.4' height='307.1'><path d='M884 640 L900 635 L950 626 L1000 620 L1050 616 L1100 614 L1150 612 L1190 618 L1190 745 L884 745 Z' fill='#fff' filter='url(#blur2)'/></mask><g mask='url(#tm27)' opacity='1'><g transform='rotate(0 1036.6 592.2)'><rect x='798.7' y='354.6' width='475.8' height='475.4' fill='#000' filter='url(#tf26)'/></g></g><path d='M884 530 L888 528 L897 520 L905 516 L915 514 L925 512 L935 515 L945 510 L955 512 L965 514 L975 509 L985 513 L995 515 L1005 511 L1015 513 L1025 516 L1035 510 L1045 512 L1055 509 L1065 513 L1075 510 L1085 512 L1095 510 L1105 514 L1115 511 L1125 515 L1135 513 L1145 520 L1155 524 L1165 530 L1175 536 L1190 545 L1190 625 L1150 615 L1100 617 L1050 620 L1000 626 L950 634 L900 645 L884 648 Z' fill='#1a6aa8' filter='url(#blur2)' opacity='1'/><mask id='tm29' maskUnits='userSpaceOnUse' x='882.9' y='438.7' width='307.4' height='307.1'><path d='M884 530 L888 528 L897 520 L905 516 L915 514 L925 512 L935 515 L945 510 L955 512 L965 514 L975 509 L985 513 L995 515 L1005 511 L1015 513 L1025 516 L1035 510 L1045 512 L1055 509 L1065 513 L1075 510 L1085 512 L1095 510 L1105 514 L1115 511 L1125 515 L1135 513 L1145 520 L1155 524 L1165 530 L1175 536 L1190 545 L1190 625 L1150 615 L1100 617 L1050 620 L1000 626 L950 634 L900 645 L884 648 Z' fill='#fff' filter='url(#blur2)'/></mask><g mask='url(#tm29)' opacity='1'><g transform='rotate(6 1036.6 592.2)'><rect x='798.7' y='354.6' width='475.8' height='475.4' fill='#000' filter='url(#tf28)'/></g></g><mask id='tm31' maskUnits='userSpaceOnUse' x='882.9' y='438.7' width='307.4' height='307.1'><path d='M884 530 L888 528 L897 520 L905 516 L915 514 L925 512 L935 515 L945 510 L955 512 L965 514 L975 509 L985 513 L995 515 L1005 511 L1015 513 L1025 516 L1035 510 L1045 512 L1055 509 L1065 513 L1075 510 L1085 512 L1095 510 L1105 514 L1115 511 L1125 515 L1135 513 L1145 520 L1155 524 L1165 530 L1175 536 L1190 545 L1190 625 L1150 615 L1100 617 L1050 620 L1000 626 L950 634 L900 645 L884 648 Z' fill='#fff' filter='url(#blur2)'/></mask><g mask='url(#tm31)' opacity='1'><g transform='rotate(6 1036.6 592.2)'><rect x='798.7' y='354.6' width='475.8' height='475.4' fill='#000' filter='url(#tf30)'/></g></g><path d='M884 530 L888 528 L897 520 L905 516 L915 514 L925 512 L935 515 L945 510 L955 512 L965 514 L975 509 L985 513 L995 515 L1005 511 L1015 513 L1025 516 L1035 510 L1045 512 L1055 509 L1065 513 L1075 510 L1085 512 L1095 510 L1105 514 L1115 511 L1125 515 L1135 513 L1145 520 L1155 524 L1165 530 L1175 536 L1190 545 L1190 565 L1100 548 L1000 545 L900 550 L884 552 Z' fill='#30c838' filter='url(#blur2)' opacity='0.85'/><mask id='tm33' maskUnits='userSpaceOnUse' x='882.9' y='438.7' width='307.4' height='307.1'><path d='M884 530 L888 528 L897 520 L905 516 L915 514 L925 512 L935 515 L945 510 L955 512 L965 514 L975 509 L985 513 L995 515 L1005 511 L1015 513 L1025 516 L1035 510 L1045 512 L1055 509 L1065 513 L1075 510 L1085 512 L1095 510 L1105 514 L1115 511 L1125 515 L1135 513 L1145 520 L1155 524 L1165 530 L1175 536 L1190 545 L1190 565 L1100 548 L1000 545 L900 550 L884 552 Z' fill='#fff' filter='url(#blur2)'/></mask><g mask='url(#tm33)' opacity='1'><g transform='rotate(4 1036.6 592.2)'><rect x='798.7' y='354.6' width='475.8' height='475.4' fill='#000' filter='url(#tf32)'/></g></g><mask id='tm35' maskUnits='userSpaceOnUse' x='882.9' y='438.7' width='307.4' height='307.1'><path d='M1040 560 L1190 570 L1190 620 L1040 615 Z' fill='#fff' filter='url(#blur2)'/></mask><g mask='url(#tm35)' opacity='1'><g transform='rotate(-60 1036.6 592.2)'><rect x='798.7' y='354.6' width='475.8' height='475.4' fill='#000' filter='url(#tf34)'/></g></g><path d='M1055 612 L1080 590 L1095 602 L1110 592 L1130 606 L1150 600 L1170 614 L1120 616 L1070 614 Z' fill='#000' filter='url(#blur4)' opacity='0.7'/><path d='M884 630 L930 640 L960 700 L975 745 L884 745 Z' fill='#0c3a60' filter='url(#blur8)' opacity='0.85'/><mask id='tm37' maskUnits='userSpaceOnUse' x='882.9' y='438.7' width='307.4' height='307.1'><path d='M884 630 L930 640 L960 700 L975 745 L884 745 Z' fill='#fff' filter='url(#blur8)'/></mask><g mask='url(#tm37)' opacity='1'><g transform='rotate(20 1036.6 592.2)'><rect x='798.7' y='354.6' width='475.8' height='475.4' fill='#000' filter='url(#tf36)'/></g></g><path d='M1010 650 C1060 640 1120 660 1150 720 L1150 745 L1010 745 Z' fill='#000' opacity='0.35' filter='url(#blur8)'/><path d='M884 530 L888 528 L897 520 L905 516 L915 514 L925 512 L935 515 L945 510 L955 512 L965 514 L975 509 L985 513 L995 515 L1005 511 L1015 513 L1025 516 L1035 510 L1045 512 L1055 509 L1065 513 L1075 510 L1085 512 L1095 510 L1105 514 L1115 511 L1125 515 L1135 513 L1145 520 L1155 524 L1165 530 L1175 536 L1190 545' fill='none' stroke='#8a2a10' stroke-width='2' filter='url(#blur1)' opacity='0.5'/></g><clipPath id='ic47'><rect x='1190.1' y='443.7' width='146.8' height='146.3'/></clipPath><g clip-path='url(#ic47)'><rect x='1190.1' y='443.7' width='146.8' height='146.3' fill='#000'/><path d='M1186 468 L1192 464 L1200 467 L1208 462 L1216 468 L1224 461 L1232 468 L1240 462 L1248 469 L1256 463 L1264 470 L1272 466 L1280 474 L1290 472 L1300 481 L1310 486 L1320 494 L1330 500 L1340 508 L1340 595 L1186 595 Z' fill='#1a6aa8' filter='url(#blur2)' opacity='1'/><mask id='tm40' maskUnits='userSpaceOnUse' x='1185.1' y='438.7' width='156.8' height='156.3'><path d='M1186 468 L1192 464 L1200 467 L1208 462 L1216 468 L1224 461 L1232 468 L1240 462 L1248 469 L1256 463 L1264 470 L1272 466 L1280 474 L1290 472 L1300 481 L1310 486 L1320 494 L1330 500 L1340 508 L1340 595 L1186 595 Z' fill='#fff' filter='url(#blur2)'/></mask><g mask='url(#tm40)' opacity='1'><g transform='rotate(10 1263.5 516.9)'><rect x='1146.1' y='399.8' width='234.9' height='234.1' fill='#000' filter='url(#tf39)'/></g></g><mask id='tm42' maskUnits='userSpaceOnUse' x='1185.1' y='438.7' width='156.8' height='156.3'><path d='M1186 468 L1192 464 L1200 467 L1208 462 L1216 468 L1224 461 L1232 468 L1240 462 L1248 469 L1256 463 L1264 470 L1272 466 L1280 474 L1290 472 L1300 481 L1310 486 L1320 494 L1330 500 L1340 508 L1340 595 L1186 595 Z' fill='#fff' filter='url(#blur2)'/></mask><g mask='url(#tm42)' opacity='1'><g transform='rotate(10 1263.5 516.9)'><rect x='1146.1' y='399.8' width='234.9' height='234.1' fill='#000' filter='url(#tf41)'/></g></g><path d='M1186 468 L1192 464 L1200 467 L1208 462 L1216 468 L1224 461 L1232 468 L1240 462 L1248 469 L1256 463 L1264 470 L1272 466 L1280 474 L1290 472 L1300 481 L1310 486 L1320 494 L1330 500 L1340 508 L1340 540 L1270 512 L1186 505 Z' fill='#30c838' filter='url(#blur2)' opacity='0.85'/><mask id='tm44' maskUnits='userSpaceOnUse' x='1185.1' y='438.7' width='156.8' height='156.3'><path d='M1186 468 L1192 464 L1200 467 L1208 462 L1216 468 L1224 461 L1232 468 L1240 462 L1248 469 L1256 463 L1264 470 L1272 466 L1280 474 L1290 472 L1300 481 L1310 486 L1320 494 L1330 500 L1340 508 L1340 540 L1270 512 L1186 505 Z' fill='#fff' filter='url(#blur2)'/></mask><g mask='url(#tm44)' opacity='1'><g transform='rotate(6 1263.5 516.9)'><rect x='1146.1' y='399.8' width='234.9' height='234.1' fill='#000' filter='url(#tf43)'/></g></g><mask id='tm46' maskUnits='userSpaceOnUse' x='1185.1' y='438.7' width='156.8' height='156.3'><path d='M1186 556 L1230 552 L1290 556 L1340 562 L1340 595 L1186 595 Z' fill='#fff' filter='url(#blur2)'/></mask><g mask='url(#tm46)' opacity='1'><g transform='rotate(30 1263.5 516.9)'><rect x='1146.1' y='399.8' width='234.9' height='234.1' fill='#000' filter='url(#tf45)'/></g></g><path d='M1220 595 L1228 575 L1240 566 L1252 577 L1262 569 L1278 576 L1290 568 L1305 582 L1320 595 Z' fill='#000' filter='url(#blur2)' opacity='0.8'/></g><clipPath id='ic50'><rect x='1190.1' y='595.5' width='146.8' height='145.3'/></clipPath><g clip-path='url(#ic50)'><rect x='1190.1' y='595.5' width='146.8' height='145.3' fill='#000'/><path d='M1186 662 L1220 658 L1260 656 L1300 664 L1340 678 L1340 745 L1186 745 Z' fill='#040860' filter='url(#blur2)' opacity='1'/><mask id='tm49' maskUnits='userSpaceOnUse' x='1185.1' y='590.5' width='156.8' height='155.3'><path d='M1186 662 L1220 658 L1260 656 L1300 664 L1340 678 L1340 745 L1186 745 Z' fill='#fff' filter='url(#blur2)'/></mask><g mask='url(#tm49)' opacity='1'><g transform='rotate(-15 1263.5 668.1)'><rect x='1146.1' y='551.9' width='234.9' height='232.5' fill='#000' filter='url(#tf48)'/></g></g><path d='M1190 640 L1198 618 L1210 630 L1222 620 L1236 618 L1248 628 L1258 614 L1270 628 L1282 640 L1292 632 L1302 648 L1316 650 L1326 660 L1338 676 L1338 690 L1320 675 L1300 665 L1280 655 L1260 648 L1240 645 L1215 648 L1190 655 Z' fill='#4a0808' filter='url(#blur4)' opacity='0.55'/><path d='M1284 642 L1292 634 L1302 650 L1316 652 L1326 662 L1336 678' fill='none' stroke='#a01818' stroke-width='4' filter='url(#blur2)' opacity='0.7'/><path d='M1240 625 L1248 618 L1258 616 L1266 630' fill='none' stroke='#901515' stroke-width='4' filter='url(#blur2)' opacity='0.6'/><path d='M1186 705 L1205 712 L1220 745 L1186 745 Z' fill='#000' filter='url(#blur4)' opacity='0.85'/><ellipse cx='1260' cy='732' rx='25' ry='10' fill='#000' filter='url(#blur4)' opacity='0.6'/></g><rect x='517.2' y='467.7' width='134.1' height='133.6' fill='none' stroke='#fff' stroke-width='2' stroke-dasharray='7 5'/><rect x='1046.1' y='494' width='134.1' height='133.7' fill='none' stroke='#fff' stroke-width='2' stroke-dasharray='7 5'/><g fill='none' stroke='#fff' stroke-width='1.6'><polyline points='683.5,461 683.5,475 692.5,475'/><polyline points='975.5,460.5 975.5,474.7 984.5,474.7'/></g><rect x='563.6' y='723.8' width='152' height='4' fill='#cfcfcf'/><rect x='1027.3' y='724' width='152.5' height='4' fill='#cfcfcf'/><text font-family="'Liberation Sans', Arial, sans-serif" font-size='20.4' x='790.8' y='768.1'><tspan fill='#3d6ac8'>DAPI</tspan> <tspan fill='#f0141e'>ACE2</tspan> <tspan fill='#62a83a'>PanCK</tspan></text><clipPath id='ic51'><rect x='423.3' y='798.8' width='297.9' height='297.4'/></clipPath><g clip-path='url(#ic51)'><rect x='423.3' y='798.8' width='297.9' height='297.4' fill='#000'/><rect x='423.3' y='798.8' width='297.9' height='297.4' fill='#000' filter='url(#lungA)'/><ellipse cx='655' cy='985' rx='38' ry='28' fill='#000' filter='url(#blur8)' opacity='0.8'/><ellipse cx='545' cy='830' rx='25' ry='16' fill='#000' filter='url(#blur8)' opacity='0.6'/><ellipse cx='490' cy='912' rx='18' ry='14' fill='#000' filter='url(#blur8)' opacity='0.6'/></g><clipPath id='ic52'><rect x='726.2' y='798.8' width='146.2' height='145.7'/></clipPath><g clip-path='url(#ic52)'><rect x='726.2' y='798.8' width='146.2' height='145.7' fill='#000'/><rect x='726.2' y='798.8' width='146.2' height='145.7' fill='#000' filter='url(#lungA1)'/></g><clipPath id='ic53'><rect x='726.2' y='950' width='146.2' height='146.2'/></clipPath><g clip-path='url(#ic53)'><rect x='726.2' y='950' width='146.2' height='146.2' fill='#000'/><rect x='726.2' y='950' width='146.2' height='146.2' fill='#000' filter='url(#lungA2)'/></g><clipPath id='ic54'><rect x='887.9' y='798.8' width='297.4' height='297.4'/></clipPath><g clip-path='url(#ic54)'><rect x='887.9' y='798.8' width='297.4' height='297.4' fill='#000'/><rect x='887.9' y='798.8' width='297.4' height='297.4' fill='#000' filter='url(#lungB)'/><ellipse cx='1000' cy='1000' rx='52' ry='46' fill='#000' filter='url(#blur8)' opacity='0.9'/><ellipse cx='1150' cy='940' rx='30' ry='22' fill='#000' filter='url(#blur8)' opacity='0.6'/><ellipse cx='915' cy='870' rx='18' ry='25' fill='#000' filter='url(#blur8)' opacity='0.5'/></g><clipPath id='ic55'><rect x='1190.1' y='798.8' width='146.8' height='145.7'/></clipPath><g clip-path='url(#ic55)'><rect x='1190.1' y='798.8' width='146.8' height='145.7' fill='#000'/><rect x='1190.1' y='798.8' width='146.8' height='145.7' fill='#000' filter='url(#lungB1)'/></g><clipPath id='ic56'><rect x='1190.1' y='950' width='146.8' height='146.2'/></clipPath><g clip-path='url(#ic56)'><rect x='1190.1' y='950' width='146.8' height='146.2' fill='#000'/><rect x='1190.1' y='950' width='146.8' height='146.2' fill='#000' filter='url(#lungB2)'/></g><rect x='503.3' y='853.6' width='101.5' height='100.3' fill='none' stroke='#fff' stroke-width='2' stroke-dasharray='7 5'/><rect x='951.3' y='818.3' width='100.7' height='100.3' fill='none' stroke='#fff' stroke-width='2' stroke-dasharray='7 5'/><rect x='631.5' y='1079' width='83.3' height='3.6' fill='#fff'/><rect x='1096.8' y='1079' width='82.2' height='3.6' fill='#fff'/><text font-family="'Liberation Sans', Arial, sans-serif" font-size='20.4' x='800.8' y='1124'><tspan fill='#3d6ac8'>DAPI</tspan> <tspan fill='#f0141e'>ACE2</tspan> <tspan fill='#62a83a'>SPC</tspan></text><text x='1401.8' y='409.3' font-family="'Liberation Sans', Arial, sans-serif" font-weight='bold' font-size='34'>d</text><line x1='1446.7' y1='432' x2='1446.7' y2='1111.5' stroke='#000' stroke-width='2'/><polygon points='1440.7,434.5 1452.7,434.5 1446.7,420.6' fill='#000'/><text font-family="'Liberation Sans', Arial, sans-serif" font-size='21' transform='translate(1433.4,812.9) rotate(-90)'>Viral RNA</text><text font-family="'Liberation Sans', Arial, sans-serif" font-size='21' x='1642.4' y='431.9' text-anchor='middle'>Swabs</text><g stroke='#000' stroke-width='2' fill='none'><line x1='1522.8' y1='444.7' x2='1522.8' y2='749.8'/><line x1='1510.8' y1='748.8' x2='1766.9' y2='748.8'/><line x1='1510.8' y1='445.99999999999994' x2='1522.8' y2='445.99999999999994'/><line x1='1510.8' y1='521.6999999999999' x2='1522.8' y2='521.6999999999999'/><line x1='1510.8' y1='597.4' x2='1522.8' y2='597.4'/><line x1='1510.8' y1='673.0999999999999' x2='1522.8' y2='673.0999999999999'/><line x1='1510.8' y1='748.8' x2='1522.8' y2='748.8'/></g><text font-family="'Liberation Sans', Arial, sans-serif" font-size='19.5' x='1504.5' y='455.19999999999993' text-anchor='end'>10<tspan font-size='10.5' dy='-6.8'>8</tspan></text><text font-family="'Liberation Sans', Arial, sans-serif" font-size='19.5' x='1504.5' y='530.9' text-anchor='end'>10<tspan font-size='10.5' dy='-6.8'>6</tspan></text><text font-family="'Liberation Sans', Arial, sans-serif" font-size='19.5' x='1504.5' y='606.6' text-anchor='end'>10<tspan font-size='10.5' dy='-6.8'>4</tspan></text><text font-family="'Liberation Sans', Arial, sans-serif" font-size='19.5' x='1504.5' y='682.3' text-anchor='end'>10<tspan font-size='10.5' dy='-6.8'>2</tspan></text><text font-family="'Liberation Sans', Arial, sans-serif" font-size='19.5' x='1504.5' y='758.0' text-anchor='end'>10<tspan font-size='10.5' dy='-6.8'>0</tspan></text><polyline points='1554.4,516.4 1554.4,505.7 1614.4,505.7 1614.4,547.7' fill='none' stroke='#555' stroke-width='1.4'/><polyline points='1678.5,507.5 1678.5,496.7 1738.5,496.7 1738.5,528' fill='none' stroke='#555' stroke-width='1.4'/><text font-family="'Liberation Sans', Arial, sans-serif" font-size='21' x='1539' y='497.6'><tspan font-style='italic'>P</tspan> = 0.796</text><text font-family="'Liberation Sans', Arial, sans-serif" font-size='21' x='1663.5' y='489.5'><tspan font-style='italic'>P</tspan> = 0.011</text><line x1='1532.9' y1='543.6' x2='1573.7' y2='543.6' stroke='#111' stroke-width='2'/><polygon points='1553.1,525.8 1560.6999999999998,533.4 1553.1,541.0 1545.5,533.4' fill='#fff' stroke='#e0321c' stroke-width='1.8'/><circle cx='1553.1' cy='581.8' r='7.1' fill='#fff' stroke='#e0321c' stroke-width='1.8'/><line x1='1594.3' y1='573.7' x2='1634.6' y2='573.7' stroke='#111' stroke-width='2'/><polygon points='1601.8,556.3 1609.3999999999999,563.9 1601.8,571.5 1594.2,563.9' fill='#fff' stroke='#2250f5' stroke-width='1.8'/><polygon points='1627.1,566.1146 1634.8,580.7446 1619.3999999999999,580.7446' fill='#fff' stroke='#2250f5' stroke-width='1.8'/><circle cx='1614.1' cy='604.1' r='7.1' fill='#fff' stroke='#2250f5' stroke-width='1.8'/><line x1='1667.7' y1='548' x2='1695.3' y2='548' stroke='#111' stroke-width='2'/><polygon points='1675.3,516.0 1682.8999999999999,523.6 1675.3,531.2 1667.7,523.6' fill='#d41f00' stroke='#222' stroke-width='1'/><polygon points='1688.3,528.5 1695.8999999999999,536.1 1688.3,543.7 1680.7,536.1' fill='#d41f00' stroke='#222' stroke-width='1'/><circle cx='1662.7' cy='544.7' r='7.6' fill='#d41f00' stroke='#222' stroke-width='1'/><polygon points='1674.9,544.6 1682.5,552.2 1674.9,559.8000000000001 1667.3000000000002,552.2' fill='#d41f00' stroke='#222' stroke-width='1'/><circle cx='1688.3' cy='552.2' r='7.6' fill='#d41f00' stroke='#222' stroke-width='1'/><circle cx='1675.4' cy='593.4' r='7.6' fill='#d41f00' stroke='#222' stroke-width='1'/><polygon points='1736.3,532.1146 1744.0,546.7446 1728.6,546.7446' fill='#1236ec' stroke='#222' stroke-width='1'/><polygon points='1736.3,547.3145999999999 1744.0,561.9445999999999 1728.6,561.9445999999999' fill='#1236ec' stroke='#222' stroke-width='1'/><polygon points='1736.3,574.2146 1744.0,588.8446 1728.6,588.8446' fill='#1236ec' stroke='#222' stroke-width='1'/><polygon points='1741,740.3145999999999 1748.7,754.9445999999999 1733.3,754.9445999999999' fill='#1236ec' stroke='#222' stroke-width='1'/><circle cx='1723.9' cy='748.8' r='7.6' fill='#1236ec' stroke='#222' stroke-width='1'/><circle cx='1733.7' cy='748.8' r='7.6' fill='#1236ec' stroke='#222' stroke-width='1'/><circle cx='1748.8' cy='748.8' r='7.6' fill='#1236ec' stroke='#222' stroke-width='1'/><text font-family="'Liberation Sans', Arial, sans-serif" font-size='21' x='1962.5' y='426.6' text-anchor='middle'>Nasal turbinates</text><g stroke='#000' stroke-width='2' fill='none'><line x1='1846.6' y1='444.4' x2='1846.6' y2='748.5'/><line x1='1834.6' y1='747.5' x2='2089.5' y2='747.5'/><line x1='1834.6' y1='445.25' x2='1846.6' y2='445.25'/><line x1='1834.6' y1='505.7' x2='1846.6' y2='505.7'/><line x1='1834.6' y1='566.15' x2='1846.6' y2='566.15'/><line x1='1834.6' y1='626.6' x2='1846.6' y2='626.6'/><line x1='1834.6' y1='687.05' x2='1846.6' y2='687.05'/><line x1='1834.6' y1='747.5' x2='1846.6' y2='747.5'/></g><text font-family="'Liberation Sans', Arial, sans-serif" font-size='19.5' x='1829' y='454.45' text-anchor='end'>10<tspan font-size='10.5' dy='-6.8'>10</tspan></text><text font-family="'Liberation Sans', Arial, sans-serif" font-size='19.5' x='1829' y='514.9' text-anchor='end'>10<tspan font-size='10.5' dy='-6.8'>8</tspan></text><text font-family="'Liberation Sans', Arial, sans-serif" font-size='19.5' x='1829' y='575.35' text-anchor='end'>10<tspan font-size='10.5' dy='-6.8'>6</tspan></text><text font-family="'Liberation Sans', Arial, sans-serif" font-size='19.5' x='1829' y='635.8000000000001' text-anchor='end'>10<tspan font-size='10.5' dy='-6.8'>4</tspan></text><text font-family="'Liberation Sans', Arial, sans-serif" font-size='19.5' x='1829' y='696.25' text-anchor='end'>10<tspan font-size='10.5' dy='-6.8'>2</tspan></text><text font-family="'Liberation Sans', Arial, sans-serif" font-size='19.5' x='1829' y='756.7' text-anchor='end'>10<tspan font-size='10.5' dy='-6.8'>0</tspan></text><polyline points='1875.9,503.1 1875.9,492.7 1935.5,492.7 1935.5,502.3' fill='none' stroke='#555' stroke-width='1.4'/><polyline points='1998.7,477.4 1998.7,467.4 2058.5,467.4 2058.5,496.7' fill='none' stroke='#555' stroke-width='1.4'/><text font-family="'Liberation Sans', Arial, sans-serif" font-size='21' x='1860.8' y='485.4'><tspan font-style='italic'>P</tspan> &gt; 0.999</text><text font-family="'Liberation Sans', Arial, sans-serif" font-size='21' x='1983.3' y='460'><tspan font-style='italic'>P</tspan> = 0.006</text><line x1='1856.6' y1='526.8' x2='1896.8' y2='526.8' stroke='#111' stroke-width='2'/><circle cx='1876.7' cy='518.9' r='7.1' fill='#fff' stroke='#e0321c' stroke-width='1.8'/><polygon points='1876.7,543.6 1884.3,551.2 1876.7,558.8000000000001 1869.1000000000001,551.2' fill='#fff' stroke='#e0321c' stroke-width='1.8'/><line x1='1917.3' y1='530.9' x2='1930' y2='530.9' stroke='#111' stroke-width='2'/><polygon points='1925,535.7146 1932.7,550.3446 1917.3,550.3446' fill='#fff' stroke='#2250f5' stroke-width='1.8'/><circle cx='1937.6' cy='530.9' r='7.1' fill='#fff' stroke='#2250f5' stroke-width='1.8'/><polygon points='1951.6,523.3 1959.1999999999998,530.9 1951.6,538.5 1944.0,530.9' fill='#fff' stroke='#2250f5' stroke-width='1.8'/><polygon points='1986.3,473.79999999999995 1993.8999999999999,481.4 1986.3,489.0 1978.7,481.4' fill='#d41f00' stroke='#222' stroke-width='1'/><polygon points='1998.7,486.7 2006.3,494.3 1998.7,501.90000000000003 1991.1000000000001,494.3' fill='#d41f00' stroke='#222' stroke-width='1'/><line x1='1986.3' y1='507.2' x2='2011.6' y2='507.2' stroke='#111' stroke-width='2'/><circle cx='1986.3' cy='507.2' r='8' fill='#d41f00' stroke='#222' stroke-width='1'/><circle cx='2011.6' cy='507.2' r='8' fill='#d41f00' stroke='#222' stroke-width='1'/><polygon points='1998.7,525.4 2006.3,533 1998.7,540.6 1991.1000000000001,533' fill='#d41f00' stroke='#222' stroke-width='1'/><circle cx='1998.7' cy='593.4' r='8' fill='#d41f00' stroke='#222' stroke-width='1'/><polygon points='2059.3,485.0146 2067.0,499.6446 2051.6000000000004,499.6446' fill='#1236ec' stroke='#222' stroke-width='1'/><line x1='2059.3' y1='486' x2='2059.3' y2='497.5' stroke='#222' stroke-width='1.2'/><polygon points='2059.3,568.8145999999999 2067.0,583.4445999999999 2051.6000000000004,583.4445999999999' fill='#1236ec' stroke='#222' stroke-width='1'/><circle cx='2046.7' cy='747.5' r='7.6' fill='#1236ec' stroke='#222' stroke-width='1'/><circle cx='2055.6' cy='747.5' r='7.6' fill='#1236ec' stroke='#222' stroke-width='1'/><polygon points='2062,739.0146 2069.7,753.6446 2054.3,753.6446' fill='#1236ec' stroke='#222' stroke-width='1'/><polygon points='2068,739.0146 2075.7,753.6446 2060.3,753.6446' fill='#1236ec' stroke='#222' stroke-width='1'/><circle cx='2071.7' cy='747.5' r='7.6' fill='#1236ec' stroke='#222' stroke-width='1'/><text font-family="'Liberation Sans', Arial, sans-serif" font-size='21' x='1647' y='785.9' text-anchor='middle'>Lung</text><g stroke='#000' stroke-width='2' fill='none'><line x1='1534.2' y1='800.4' x2='1534.2' y2='1107'/><line x1='1522.2' y1='1106' x2='1779.8' y2='1106'/><line x1='1522.2' y1='801.5' x2='1534.2' y2='801.5'/><line x1='1522.2' y1='862.4' x2='1534.2' y2='862.4'/><line x1='1522.2' y1='923.3' x2='1534.2' y2='923.3'/><line x1='1522.2' y1='984.2' x2='1534.2' y2='984.2'/><line x1='1522.2' y1='1045.1' x2='1534.2' y2='1045.1'/><line x1='1522.2' y1='1106' x2='1534.2' y2='1106'/></g><text font-family="'Liberation Sans', Arial, sans-serif" font-size='19.5' x='1516.5' y='810.7' text-anchor='end'>10<tspan font-size='10.5' dy='-6.8'>10</tspan></text><text font-family="'Liberation Sans', Arial, sans-serif" font-size='19.5' x='1516.5' y='871.6' text-anchor='end'>10<tspan font-size='10.5' dy='-6.8'>8</tspan></text><text font-family="'Liberation Sans', Arial, sans-serif" font-size='19.5' x='1516.5' y='932.5' text-anchor='end'>10<tspan font-size='10.5' dy='-6.8'>6</tspan></text><text font-family="'Liberation Sans', Arial, sans-serif" font-size='19.5' x='1516.5' y='993.4000000000001' text-anchor='end'>10<tspan font-size='10.5' dy='-6.8'>4</tspan></text><text font-family="'Liberation Sans', Arial, sans-serif" font-size='19.5' x='1516.5' y='1054.3' text-anchor='end'>10<tspan font-size='10.5' dy='-6.8'>2</tspan></text><text font-family="'Liberation Sans', Arial, sans-serif" font-size='19.5' x='1516.5' y='1115.2' text-anchor='end'>10<tspan font-size='10.5' dy='-6.8'>0</tspan></text><polyline points='1564.2,853.1 1564.2,843.1 1624.6,843.1 1624.6,852.4' fill='none' stroke='#555' stroke-width='1.4'/><polyline points='1688.4,841 1688.4,830.7 1748,830.7 1748,882.5' fill='none' stroke='#555' stroke-width='1.4'/><text font-family="'Liberation Sans', Arial, sans-serif" font-size='21' x='1549' y='835.9'><tspan font-style='italic'>P</tspan> &gt; 0.999</text><text font-family="'Liberation Sans', Arial, sans-serif" font-size='21' x='1674.3' y='821.4'><tspan font-style='italic'>P</tspan> = 0.002</text><line x1='1544.2' y1='873.8' x2='1584.9' y2='873.8' stroke='#111' stroke-width='2'/><polygon points='1564.2,858.6 1571.8,866.2 1564.2,873.8000000000001 1556.6000000000001,866.2' fill='#fff' stroke='#e0321c' stroke-width='1.8'/><circle cx='1564.2' cy='892.8' r='7.1' fill='#fff' stroke='#e0321c' stroke-width='1.8'/><line x1='1605.6' y1='888.3' x2='1646' y2='888.3' stroke='#111' stroke-width='2'/><polygon points='1625.6,856.6 1633.1999999999998,864.2 1625.6,871.8000000000001 1618.0,864.2' fill='#fff' stroke='#2250f5' stroke-width='1.8'/><circle cx='1625.6' cy='888.3' r='7.1' fill='#fff' stroke='#2250f5' stroke-width='1.8'/><polygon points='1625.6,901.5146 1633.3,916.1446 1617.8999999999999,916.1446' fill='#fff' stroke='#2250f5' stroke-width='1.8'/><circle cx='1674.6' cy='853.1' r='7.6' fill='#d41f00' stroke='#222' stroke-width='1'/><circle cx='1699.8' cy='854.9' r='7.6' fill='#d41f00' stroke='#222' stroke-width='1'/><polygon points='1686.7,851.4 1694.3,859 1686.7,866.6 1679.1000000000001,859' fill='#d41f00' stroke='#222' stroke-width='1'/><line x1='1667' y1='866.2' x2='1707.4' y2='866.2' stroke='#111' stroke-width='2'/><polygon points='1686.7,880.0 1694.3,887.6 1686.7,895.2 1679.1000000000001,887.6' fill='#d41f00' stroke='#222' stroke-width='1'/><polygon points='1686.7,938.6999999999999 1694.3,946.3 1686.7,953.9 1679.1000000000001,946.3' fill='#d41f00' stroke='#222' stroke-width='1'/><circle cx='1686.7' cy='984.9' r='7.6' fill='#d41f00' stroke='#222' stroke-width='1'/><polygon points='1748,888.8145999999999 1755.7,903.4445999999999 1740.3,903.4445999999999' fill='#1236ec' stroke='#222' stroke-width='1'/><polygon points='1745,1097.5146 1752.7,1112.1446 1737.3,1112.1446' fill='#1236ec' stroke='#222' stroke-width='1'/><polygon points='1752,1097.5146 1759.7,1112.1446 1744.3,1112.1446' fill='#1236ec' stroke='#222' stroke-width='1'/><polygon points='1759,1097.5146 1766.7,1112.1446 1751.3,1112.1446' fill='#1236ec' stroke='#222' stroke-width='1'/><circle cx='1735' cy='1106' r='7.6' fill='#1236ec' stroke='#222' stroke-width='1'/><circle cx='1762' cy='1106' r='7.6' fill='#1236ec' stroke='#222' stroke-width='1'/><text font-family="'Liberation Sans', Arial, sans-serif" font-size='21' x='1849.8' y='850.4'>Directly inoculated</text><rect x='1849.6' y='866.7' width='41.5' height='20.8' fill='#fff' stroke='#e0321c' stroke-width='1.8'/><rect x='1849.6' y='908.4' width='41.5' height='20.6' fill='#fff' stroke='#2250f5' stroke-width='1.8'/><text font-family="'Liberation Sans', Arial, sans-serif" font-size='21' x='1903' y='883.5'>Co-housed with vehicle</text><text font-family="'Liberation Sans', Arial, sans-serif" font-size='21' x='1903' y='925.6'>Co-housed with UDCA</text><text font-family="'Liberation Sans', Arial, sans-serif" font-size='21' x='1849.8' y='1006.6'>Treated, non-directly infected</text><rect x='1849.3' y='1022.7' width='42.3' height='21.6' fill='#d41f00' stroke='#111' stroke-width='1.6'/><rect x='1849.3' y='1064.7' width='42.3' height='21.6' fill='#1236ec' stroke='#111' stroke-width='1.6'/><text font-family="'Liberation Sans', Arial, sans-serif" font-size='21' x='1903' y='1041.1'>Vehicle</text><text font-family="'Liberation Sans', Arial, sans-serif" font-size='21' x='1903' y='1083.6'>UDCA</text><text x='0' y='1247.7' font-family="'Liberation Sans', Arial, sans-serif" font-weight='bold' font-size='34'>e</text><g stroke='#000' stroke-width='2' fill='none'><line x1='113.9' y1='1264.8' x2='113.9' y2='1548.1'/><line x1='102.5' y1='1548.1' x2='556.2' y2='1548.1'/><line x1='102.5' y1='1265.8' x2='113.9' y2='1265.8'/><line x1='102.5' y1='1406.9' x2='113.9' y2='1406.9'/><line x1='108.3' y1='1336.4' x2='113.9' y2='1336.4'/><line x1='108.3' y1='1477.5' x2='113.9' y2='1477.5'/><line x1='113.7' y1='1548.1' x2='113.7' y2='1555.5'/><line x1='194.2' y1='1548.1' x2='194.2' y2='1555.5'/><line x1='274.6' y1='1548.1' x2='274.6' y2='1555.5'/><line x1='355.1' y1='1548.1' x2='355.1' y2='1555.5'/><line x1='435.6' y1='1548.1' x2='435.6' y2='1555.5'/><line x1='516.0' y1='1548.1' x2='516.0' y2='1555.5'/></g><text font-family="'Liberation Sans', Arial, sans-serif" font-size='21' x='95' y='1273.1' text-anchor='end'>100</text><text font-family="'Liberation Sans', Arial, sans-serif" font-size='21' x='95' y='1414.2' text-anchor='end'>50</text><text font-family="'Liberation Sans', Arial, sans-serif" font-size='21' x='95' y='1555.4' text-anchor='end'>0</text><text font-family="'Liberation Sans', Arial, sans-serif" font-size='21' x='194.2' y='1575.9' text-anchor='middle'>0</text><text font-family="'Liberation Sans', Arial, sans-serif" font-size='21' x='274.6' y='1575.9' text-anchor='middle'>1</text><text font-family="'Liberation Sans', Arial, sans-serif" font-size='21' x='355.1' y='1575.9' text-anchor='middle'>2</text><text font-family="'Liberation Sans', Arial, sans-serif" font-size='21' x='435.6' y='1575.9' text-anchor='middle'>3</text><text font-family="'Liberation Sans', Arial, sans-serif" font-size='21' x='516.0' y='1575.9' text-anchor='middle'>4</text><text font-family="'Liberation Sans', Arial, sans-serif" font-size='21' x='338.5' y='1603.2' text-anchor='middle'>Time (d)</text><text font-family="'Liberation Sans', Arial, sans-serif" font-size='21' transform='translate(29.6,1549.5) rotate(-90)'>Hamsters with a positive PCR</text><text font-family="'Liberation Sans', Arial, sans-serif" font-size='21' transform='translate(57.8,1526.5) rotate(-90)'>test for SARS-CoV-2 (%)</text><polyline points='113.9,1526.9 194.2,1526.9 194.2,1265.8' fill='none' stroke='#111' stroke-width='1.6'/><polyline points='113.9,1534.1 435.6,1534.1 435.6,1346.7 516.0,1346.7 516.0,1265.8' fill='none' stroke='#d8301c' stroke-width='1.6'/><polyline points='126.2,1540.9 448.5,1540.9 448.5,1509.8 529.7,1509.8 529.7,1446.4' fill='none' stroke='#2a55f0' stroke-width='1.8'/><polyline points='530.5,1265.5 549.5,1265.5 549.5,1360.5' fill='none' stroke='#333' stroke-width='1.4'/><polyline points='549.5,1392.5 549.5,1509.8 540.4,1509.8' fill='none' stroke='#333' stroke-width='1.4'/><text font-family="'Liberation Sans', Arial, sans-serif" font-size='21' x='504.2' y='1382.3'><tspan font-style='italic'>P</tspan> = 0.009</text><line x1='592.6' y1='1400.1' x2='623.5' y2='1400.1' stroke='#111' stroke-width='1.6'/><line x1='592.6' y1='1426.7' x2='623.5' y2='1426.7' stroke='#d8301c' stroke-width='1.6'/><line x1='592.6' y1='1455.5' x2='623.5' y2='1455.5' stroke='#2a55f0' stroke-width='1.6'/><text font-family="'Liberation Sans', Arial, sans-serif" font-size='21' x='629.8' y='1408'>Directly inoculated</text><text font-family="'Liberation Sans', Arial, sans-serif" font-size='21' x='629.8' y='1435.8'>Vehicle</text><text font-family="'Liberation Sans', Arial, sans-serif" font-size='21' x='629.8' y='1463.5'>UDCA</text><text x='880.3' y='1241.3' font-family="'Liberation Sans', Arial, sans-serif" font-weight='bold' font-size='32.5'>f</text><g stroke='#000' stroke-width='2' fill='none'><line x1='975.6' y1='1248.5' x2='975.6' y2='1541.5'/><line x1='974.6' y1='1541.5' x2='1415' y2='1541.5'/><line x1='963.7' y1='1297.8' x2='975.6' y2='1297.8'/><line x1='963.7' y1='1395.4' x2='975.6' y2='1395.4'/><line x1='963.7' y1='1493.0' x2='975.6' y2='1493.0'/><line x1='1006.4' y1='1541.5' x2='1006.4' y2='1553.3'/><line x1='1069.2' y1='1541.5' x2='1069.2' y2='1553.3'/><line x1='1132.0' y1='1541.5' x2='1132.0' y2='1553.3'/><line x1='1194.8' y1='1541.5' x2='1194.8' y2='1553.3'/><line x1='1257.6' y1='1541.5' x2='1257.6' y2='1553.3'/><line x1='1320.4' y1='1541.5' x2='1320.4' y2='1553.3'/><line x1='1383.2' y1='1541.5' x2='1383.2' y2='1553.3'/></g><text font-family="'Liberation Sans', Arial, sans-serif" font-size='21' x='959.5' y='1305.1' text-anchor='end'>110</text><text font-family="'Liberation Sans', Arial, sans-serif" font-size='21' x='959.5' y='1402.7' text-anchor='end'>100</text><text font-family="'Liberation Sans', Arial, sans-serif" font-size='21' x='959.5' y='1500.3' text-anchor='end'>90</text><text font-family="'Liberation Sans', Arial, sans-serif" font-size='21' x='1003.4' y='1578.3' text-anchor='middle'>−2</text><text font-family="'Liberation Sans', Arial, sans-serif" font-size='21' x='1066.2' y='1578.3' text-anchor='middle'>−1</text><text font-family="'Liberation Sans', Arial, sans-serif" font-size='21' x='1132.0' y='1578.3' text-anchor='middle'>0</text><text font-family="'Liberation Sans', Arial, sans-serif" font-size='21' x='1194.8' y='1578.3' text-anchor='middle'>1</text><text font-family="'Liberation Sans', Arial, sans-serif" font-size='21' x='1257.6' y='1578.3' text-anchor='middle'>2</text><text font-family="'Liberation Sans', Arial, sans-serif" font-size='21' x='1320.4' y='1578.3' text-anchor='middle'>3</text><text font-family="'Liberation Sans', Arial, sans-serif" font-size='21' x='1383.2' y='1578.3' text-anchor='middle'>4</text><text font-family="'Liberation Sans', Arial, sans-serif" font-size='21' x='1198.5' y='1603.2' text-anchor='middle'>Time (d)</text><text font-family="'Liberation Sans', Arial, sans-serif" font-size='21' transform='translate(910.6,1483.5) rotate(-90)'>Weight change (%)</text><text font-family="'Liberation Sans', Arial, sans-serif" font-size='21' x='1320' y='1278.6' text-anchor='middle'>First positive swab</text><text font-family="'Liberation Sans', Arial, sans-serif" font-size='21' x='1320' y='1303.1' text-anchor='middle'>in sentinel hamsters</text><line x1='1319' y1='1315' x2='1319' y2='1338' stroke='#000' stroke-width='2'/><polygon points='1313.2,1334.5 1319,1337.8 1324.8,1334.5 1319,1348.6' fill='#000'/><line x1='1069.2' y1='1380.9' x2='1069.2' y2='1404' stroke='#111' stroke-width='1.6'/><line x1='1062.9' y1='1380.9' x2='1075.5' y2='1380.9' stroke='#111' stroke-width='1.6'/><line x1='1062.9' y1='1404' x2='1075.5' y2='1404' stroke='#111' stroke-width='1.6'/><line x1='1132' y1='1378' x2='1132' y2='1409.5' stroke='#111' stroke-width='1.6'/><line x1='1125.7' y1='1378' x2='1138.3' y2='1378' stroke='#111' stroke-width='1.6'/><line x1='1125.7' y1='1409.5' x2='1138.3' y2='1409.5' stroke='#111' stroke-width='1.6'/><line x1='1195.2' y1='1382.2' x2='1195.2' y2='1463.9' stroke='#111' stroke-width='1.6'/><line x1='1188.9' y1='1382.2' x2='1201.5' y2='1382.2' stroke='#111' stroke-width='1.6'/><line x1='1188.9' y1='1463.9' x2='1201.5' y2='1463.9' stroke='#111' stroke-width='1.6'/><line x1='1258' y1='1409.5' x2='1258' y2='1484.6' stroke='#111' stroke-width='1.6'/><line x1='1251.7' y1='1409.5' x2='1264.3' y2='1409.5' stroke='#111' stroke-width='1.6'/><line x1='1251.7' y1='1484.6' x2='1264.3' y2='1484.6' stroke='#111' stroke-width='1.6'/><line x1='1320.8' y1='1438.8' x2='1320.8' y2='1498.7' stroke='#111' stroke-width='1.6'/><line x1='1314.5' y1='1438.8' x2='1327.1' y2='1438.8' stroke='#111' stroke-width='1.6'/><line x1='1314.5' y1='1498.7' x2='1327.1' y2='1498.7' stroke='#111' stroke-width='1.6'/><line x1='1383.2' y1='1451' x2='1383.2' y2='1500.6' stroke='#111' stroke-width='1.6'/><line x1='1376.9' y1='1451' x2='1389.5' y2='1451' stroke='#111' stroke-width='1.6'/><line x1='1376.9' y1='1500.6' x2='1389.5' y2='1500.6' stroke='#111' stroke-width='1.6'/><polyline points='1006.4,1395.3 1069.2,1390.5 1132,1393 1195.2,1421.8 1258,1440.4 1320.8,1463.4 1383.2,1470.3' fill='none' stroke='#111' stroke-width='1.6'/><line x1='1069.2' y1='1372.2' x2='1069.2' y2='1401.1' stroke='#4848f2' stroke-width='1.6'/><line x1='1062.9' y1='1372.2' x2='1075.5' y2='1372.2' stroke='#4848f2' stroke-width='1.6'/><line x1='1062.9' y1='1401.1' x2='1075.5' y2='1401.1' stroke='#4848f2' stroke-width='1.6'/><line x1='1132' y1='1366' x2='1132' y2='1395.3' stroke='#4848f2' stroke-width='1.6'/><line x1='1125.7' y1='1366' x2='1138.3' y2='1366' stroke='#4848f2' stroke-width='1.6'/><line x1='1125.7' y1='1395.3' x2='1138.3' y2='1395.3' stroke='#4848f2' stroke-width='1.6'/><line x1='1195.2' y1='1365' x2='1195.2' y2='1385.7' stroke='#4848f2' stroke-width='1.6'/><line x1='1188.9' y1='1365' x2='1201.5' y2='1365' stroke='#4848f2' stroke-width='1.6'/><line x1='1188.9' y1='1385.7' x2='1201.5' y2='1385.7' stroke='#4848f2' stroke-width='1.6'/><line x1='1258' y1='1367.5' x2='1258' y2='1401.1' stroke='#4848f2' stroke-width='1.6'/><line x1='1251.7' y1='1367.5' x2='1264.3' y2='1367.5' stroke='#4848f2' stroke-width='1.6'/><line x1='1251.7' y1='1401.1' x2='1264.3' y2='1401.1' stroke='#4848f2' stroke-width='1.6'/><line x1='1320.8' y1='1357.7' x2='1320.8' y2='1405' stroke='#4848f2' stroke-width='1.6'/><line x1='1314.5' y1='1357.7' x2='1327.1' y2='1357.7' stroke='#4848f2' stroke-width='1.6'/><line x1='1314.5' y1='1405' x2='1327.1' y2='1405' stroke='#4848f2' stroke-width='1.6'/><line x1='1383.2' y1='1343.8' x2='1383.2' y2='1395.3' stroke='#4848f2' stroke-width='1.6'/><line x1='1376.9' y1='1343.8' x2='1389.5' y2='1343.8' stroke='#4848f2' stroke-width='1.6'/><line x1='1376.9' y1='1395.3' x2='1389.5' y2='1395.3' stroke='#4848f2' stroke-width='1.6'/><polyline points='1006.4,1395.3 1069.2,1386.1 1132,1384.1 1195.2,1378 1258,1384.1 1320.8,1382.8 1383.2,1372.2' fill='none' stroke='#4848f2' stroke-width='1.6'/><line x1='1069.2' y1='1384.7' x2='1069.2' y2='1403.5' stroke='#d8301c' stroke-width='1.6'/><line x1='1062.9' y1='1384.7' x2='1075.5' y2='1384.7' stroke='#d8301c' stroke-width='1.6'/><line x1='1062.9' y1='1403.5' x2='1075.5' y2='1403.5' stroke='#d8301c' stroke-width='1.6'/><line x1='1132' y1='1377.6' x2='1132' y2='1391.9' stroke='#d8301c' stroke-width='1.6'/><line x1='1125.7' y1='1377.6' x2='1138.3' y2='1377.6' stroke='#d8301c' stroke-width='1.6'/><line x1='1125.7' y1='1391.9' x2='1138.3' y2='1391.9' stroke='#d8301c' stroke-width='1.6'/><line x1='1195.2' y1='1377.6' x2='1195.2' y2='1390' stroke='#d8301c' stroke-width='1.6'/><line x1='1188.9' y1='1377.6' x2='1201.5' y2='1377.6' stroke='#d8301c' stroke-width='1.6'/><line x1='1188.9' y1='1390' x2='1201.5' y2='1390' stroke='#d8301c' stroke-width='1.6'/><line x1='1258' y1='1363.1' x2='1258' y2='1384.7' stroke='#d8301c' stroke-width='1.6'/><line x1='1251.7' y1='1363.1' x2='1264.3' y2='1363.1' stroke='#d8301c' stroke-width='1.6'/><line x1='1251.7' y1='1384.7' x2='1264.3' y2='1384.7' stroke='#d8301c' stroke-width='1.6'/><line x1='1320.8' y1='1356.7' x2='1320.8' y2='1388.6' stroke='#d8301c' stroke-width='1.6'/><line x1='1314.5' y1='1356.7' x2='1327.1' y2='1356.7' stroke='#d8301c' stroke-width='1.6'/><line x1='1314.5' y1='1388.6' x2='1327.1' y2='1388.6' stroke='#d8301c' stroke-width='1.6'/><line x1='1383.2' y1='1366.4' x2='1383.2' y2='1423.7' stroke='#d8301c' stroke-width='1.6'/><line x1='1376.9' y1='1366.4' x2='1389.5' y2='1366.4' stroke='#d8301c' stroke-width='1.6'/><line x1='1376.9' y1='1423.7' x2='1389.5' y2='1423.7' stroke='#d8301c' stroke-width='1.6'/><polyline points='1006.4,1395.3 1069.2,1391.1 1132,1385.3 1195.2,1382.2 1258,1372.2 1320.8,1373.5 1383.2,1389' fill='none' stroke='#d8301c' stroke-width='1.6'/><line x1='1433.2' y1='1397' x2='1468.5' y2='1397' stroke='#111' stroke-width='1.6'/><line x1='1433.2' y1='1428.6' x2='1468.5' y2='1428.6' stroke='#d8301c' stroke-width='1.6'/><line x1='1433.2' y1='1460.7' x2='1468.5' y2='1460.7' stroke='#4848f2' stroke-width='1.6'/><text font-family="'Liberation Sans', Arial, sans-serif" font-size='21' x='1475.2' y='1404.9'>Directly inoculated</text><text font-family="'Liberation Sans', Arial, sans-serif" font-size='21' x='1475.2' y='1435.8'>Vehicle</text><text font-family="'Liberation Sans', Arial, sans-serif" font-size='21' x='1475.2' y='1468.6'>UDCA</text><text x='1718' y='1247.7' font-family="'Liberation Sans', Arial, sans-serif" font-weight='bold' font-size='34'>g</text><g stroke='#000' stroke-width='2' fill='none'><line x1='1830.3' y1='1291.2' x2='1830.3' y2='1556.1'/><line x1='1829.3' y1='1556.1' x2='1960.6' y2='1556.1'/><line x1='1819.4' y1='1305.7' x2='1830.3' y2='1305.7'/><line x1='1819.4' y1='1364.8' x2='1830.3' y2='1364.8'/><line x1='1819.4' y1='1423.9' x2='1830.3' y2='1423.9'/><line x1='1819.4' y1='1483.0' x2='1830.3' y2='1483.0'/><line x1='1819.4' y1='1542.1' x2='1830.3' y2='1542.1'/></g><text font-family="'Liberation Sans', Arial, sans-serif" font-size='21' x='1815' y='1313.2' text-anchor='end'>4</text><text font-family="'Liberation Sans', Arial, sans-serif" font-size='21' x='1815' y='1372.3' text-anchor='end'>2</text><text font-family="'Liberation Sans', Arial, sans-serif" font-size='21' x='1815' y='1431.4' text-anchor='end'>0</text><text font-family="'Liberation Sans', Arial, sans-serif" font-size='21' x='1815' y='1490.5' text-anchor='end'>−2</text><text font-family="'Liberation Sans', Arial, sans-serif" font-size='21' x='1815' y='1549.6' text-anchor='end'>−4</text><line x1='1831' y1='1423.9' x2='1960' y2='1423.9' stroke='#000' stroke-width='2.2' stroke-dasharray='2.2 3'/><text font-family="'Liberation Sans', Arial, sans-serif" font-size='21' transform='translate(1748.5,1518) rotate(-90)'>Weight change after</text><text font-family="'Liberation Sans', Arial, sans-serif" font-size='21' transform='translate(1776.2,1547) rotate(-90)'>SARS-CoV-2 infection (%)</text><line x1='1870.9' y1='1540.4' x2='1870.9' y2='1545.7' stroke='#111' stroke-width='1.6'/><line x1='1866.5' y1='1545.7' x2='1880.9' y2='1545.7' stroke='#111' stroke-width='1.6'/><line x1='1866.5' y1='1427' x2='1880.9' y2='1427' stroke='#111' stroke-width='1.6'/><rect x='1851.3' y='1429.4' width='39.3' height='111' fill='#d81e00' stroke='#111' stroke-width='1.8'/><line x1='1851.3' y1='1481' x2='1890.6' y2='1481' stroke='#111' stroke-width='1.6'/><line x1='1919.5' y1='1340.6' x2='1919.5' y2='1438.3' stroke='#111' stroke-width='1.6'/><line x1='1909.2' y1='1340.6' x2='1930.4' y2='1340.6' stroke='#111' stroke-width='1.6'/><line x1='1909.2' y1='1438.3' x2='1930.4' y2='1438.3' stroke='#111' stroke-width='1.6'/><rect x='1900.2' y='1367.6' width='39.4' height='53.8' fill='#0b2cf5' stroke='#111' stroke-width='1.8'/><line x1='1900.2' y1='1387' x2='1939.6' y2='1387' stroke='#111' stroke-width='1.6'/><polyline points='1867.7,1413 1867.7,1319.4 1918.3,1319.4 1918.3,1329.8' fill='none' stroke='#555' stroke-width='1.3'/><text font-family="'Liberation Sans', Arial, sans-serif" font-size='21' x='1843.8' y='1311.2'><tspan font-style='italic'>P</tspan> = 0.0008</text><circle cx='1862.8' cy='1428.7' r='3.9' fill='#fff' stroke='#111' stroke-width='1.5'/><circle cx='1878.5' cy='1426.8' r='3.9' fill='#fff' stroke='#111' stroke-width='1.5'/><circle cx='1870.6' cy='1474.5' r='3.9' fill='#fff' stroke='#111' stroke-width='1.5'/><circle cx='1870.6' cy='1487.3' r='3.9' fill='#fff' stroke='#111' stroke-width='1.5'/><circle cx='1878.5' cy='1539.7' r='3.9' fill='#fff' stroke='#111' stroke-width='1.5'/><circle cx='1862.8' cy='1545.7' r='3.9' fill='#fff' stroke='#111' stroke-width='1.5'/><circle cx='1919.5' cy='1340.6' r='3.9' fill='#fff' stroke='#111' stroke-width='1.5'/><circle cx='1911.6' cy='1367.6' r='3.9' fill='#fff' stroke='#111' stroke-width='1.5'/><circle cx='1928' cy='1366' r='3.9' fill='#fff' stroke='#111' stroke-width='1.5'/><circle cx='1919.5' cy='1378' r='3.9' fill='#fff' stroke='#111' stroke-width='1.5'/><circle cx='1919.5' cy='1387' r='3.9' fill='#fff' stroke='#111' stroke-width='1.5'/><circle cx='1919.5' cy='1397.3' r='3.9' fill='#fff' stroke='#111' stroke-width='1.5'/><circle cx='1911.6' cy='1420.7' r='3.9' fill='#fff' stroke='#111' stroke-width='1.5'/><circle cx='1928' cy='1423.9' r='3.9' fill='#fff' stroke='#111' stroke-width='1.5'/><circle cx='1919.5' cy='1438.3' r='3.9' fill='#fff' stroke='#111' stroke-width='1.5'/><rect x='1993.8' y='1375.6' width='46.9' height='24.1' fill='#d81e00' stroke='#111' stroke-width='1.8'/><rect x='1993.8' y='1422.7' width='46.9' height='24.1' fill='#0b2cf5' stroke='#111' stroke-width='1.8'/><text font-family="'Liberation Sans', Arial, sans-serif" font-size='21' x='2050.5' y='1393.7'>Vehicle</text><text font-family="'Liberation Sans', Arial, sans-serif" font-size='21' x='2050.5' y='1441.5'>UDCA</text></svg></body></html>
